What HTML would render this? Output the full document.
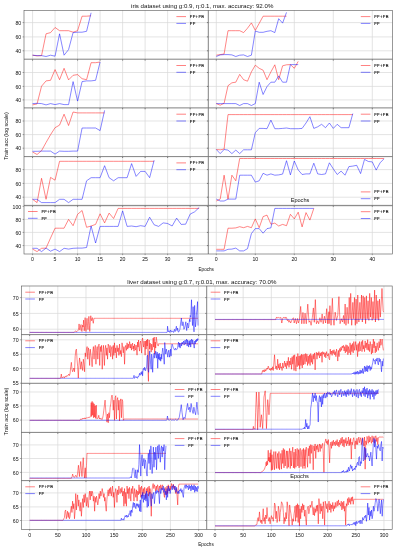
<!DOCTYPE html><html><head><meta charset="utf-8"><style>html,body{margin:0;padding:0;background:#fff;overflow:hidden}svg{display:block;will-change:transform}text{font-family:"Liberation Sans", sans-serif}</style></head><body><svg width="397" height="550" viewBox="0 0 397 550"><line x1="32.55" y1="10.3" x2="32.55" y2="59.2" stroke="#d9d9d9" stroke-width="0.7"/>
<line x1="55.06" y1="10.3" x2="55.06" y2="59.2" stroke="#d9d9d9" stroke-width="0.7"/>
<line x1="77.58" y1="10.3" x2="77.58" y2="59.2" stroke="#d9d9d9" stroke-width="0.7"/>
<line x1="100.09" y1="10.3" x2="100.09" y2="59.2" stroke="#d9d9d9" stroke-width="0.7"/>
<line x1="122.61" y1="10.3" x2="122.61" y2="59.2" stroke="#d9d9d9" stroke-width="0.7"/>
<line x1="145.12" y1="10.3" x2="145.12" y2="59.2" stroke="#d9d9d9" stroke-width="0.7"/>
<line x1="167.64" y1="10.3" x2="167.64" y2="59.2" stroke="#d9d9d9" stroke-width="0.7"/>
<line x1="190.16" y1="10.3" x2="190.16" y2="59.2" stroke="#d9d9d9" stroke-width="0.7"/>
<line x1="24" y1="22.6" x2="208.3" y2="22.6" stroke="#d9d9d9" stroke-width="0.7"/>
<line x1="24" y1="36.9" x2="208.3" y2="36.9" stroke="#d9d9d9" stroke-width="0.7"/>
<line x1="24" y1="50.8" x2="208.3" y2="50.8" stroke="#d9d9d9" stroke-width="0.7"/>
<line x1="216.3" y1="10.3" x2="216.3" y2="59.2" stroke="#d9d9d9" stroke-width="0.7"/>
<line x1="255.3" y1="10.3" x2="255.3" y2="59.2" stroke="#d9d9d9" stroke-width="0.7"/>
<line x1="294.3" y1="10.3" x2="294.3" y2="59.2" stroke="#d9d9d9" stroke-width="0.7"/>
<line x1="333.3" y1="10.3" x2="333.3" y2="59.2" stroke="#d9d9d9" stroke-width="0.7"/>
<line x1="372.3" y1="10.3" x2="372.3" y2="59.2" stroke="#d9d9d9" stroke-width="0.7"/>
<line x1="208.3" y1="22.6" x2="392.4" y2="22.6" stroke="#d9d9d9" stroke-width="0.7"/>
<line x1="208.3" y1="36.9" x2="392.4" y2="36.9" stroke="#d9d9d9" stroke-width="0.7"/>
<line x1="208.3" y1="50.8" x2="392.4" y2="50.8" stroke="#d9d9d9" stroke-width="0.7"/>
<line x1="32.55" y1="59.2" x2="32.55" y2="107.9" stroke="#d9d9d9" stroke-width="0.7"/>
<line x1="55.06" y1="59.2" x2="55.06" y2="107.9" stroke="#d9d9d9" stroke-width="0.7"/>
<line x1="77.58" y1="59.2" x2="77.58" y2="107.9" stroke="#d9d9d9" stroke-width="0.7"/>
<line x1="100.09" y1="59.2" x2="100.09" y2="107.9" stroke="#d9d9d9" stroke-width="0.7"/>
<line x1="122.61" y1="59.2" x2="122.61" y2="107.9" stroke="#d9d9d9" stroke-width="0.7"/>
<line x1="145.12" y1="59.2" x2="145.12" y2="107.9" stroke="#d9d9d9" stroke-width="0.7"/>
<line x1="167.64" y1="59.2" x2="167.64" y2="107.9" stroke="#d9d9d9" stroke-width="0.7"/>
<line x1="190.16" y1="59.2" x2="190.16" y2="107.9" stroke="#d9d9d9" stroke-width="0.7"/>
<line x1="24" y1="72.5" x2="208.3" y2="72.5" stroke="#d9d9d9" stroke-width="0.7"/>
<line x1="24" y1="86.4" x2="208.3" y2="86.4" stroke="#d9d9d9" stroke-width="0.7"/>
<line x1="24" y1="99.9" x2="208.3" y2="99.9" stroke="#d9d9d9" stroke-width="0.7"/>
<line x1="216.3" y1="59.2" x2="216.3" y2="107.9" stroke="#d9d9d9" stroke-width="0.7"/>
<line x1="255.3" y1="59.2" x2="255.3" y2="107.9" stroke="#d9d9d9" stroke-width="0.7"/>
<line x1="294.3" y1="59.2" x2="294.3" y2="107.9" stroke="#d9d9d9" stroke-width="0.7"/>
<line x1="333.3" y1="59.2" x2="333.3" y2="107.9" stroke="#d9d9d9" stroke-width="0.7"/>
<line x1="372.3" y1="59.2" x2="372.3" y2="107.9" stroke="#d9d9d9" stroke-width="0.7"/>
<line x1="208.3" y1="72.5" x2="392.4" y2="72.5" stroke="#d9d9d9" stroke-width="0.7"/>
<line x1="208.3" y1="86.4" x2="392.4" y2="86.4" stroke="#d9d9d9" stroke-width="0.7"/>
<line x1="208.3" y1="99.9" x2="392.4" y2="99.9" stroke="#d9d9d9" stroke-width="0.7"/>
<line x1="32.55" y1="107.9" x2="32.55" y2="156.6" stroke="#d9d9d9" stroke-width="0.7"/>
<line x1="55.06" y1="107.9" x2="55.06" y2="156.6" stroke="#d9d9d9" stroke-width="0.7"/>
<line x1="77.58" y1="107.9" x2="77.58" y2="156.6" stroke="#d9d9d9" stroke-width="0.7"/>
<line x1="100.09" y1="107.9" x2="100.09" y2="156.6" stroke="#d9d9d9" stroke-width="0.7"/>
<line x1="122.61" y1="107.9" x2="122.61" y2="156.6" stroke="#d9d9d9" stroke-width="0.7"/>
<line x1="145.12" y1="107.9" x2="145.12" y2="156.6" stroke="#d9d9d9" stroke-width="0.7"/>
<line x1="167.64" y1="107.9" x2="167.64" y2="156.6" stroke="#d9d9d9" stroke-width="0.7"/>
<line x1="190.16" y1="107.9" x2="190.16" y2="156.6" stroke="#d9d9d9" stroke-width="0.7"/>
<line x1="24" y1="121" x2="208.3" y2="121" stroke="#d9d9d9" stroke-width="0.7"/>
<line x1="24" y1="134.6" x2="208.3" y2="134.6" stroke="#d9d9d9" stroke-width="0.7"/>
<line x1="24" y1="148.2" x2="208.3" y2="148.2" stroke="#d9d9d9" stroke-width="0.7"/>
<line x1="216.3" y1="107.9" x2="216.3" y2="156.6" stroke="#d9d9d9" stroke-width="0.7"/>
<line x1="255.3" y1="107.9" x2="255.3" y2="156.6" stroke="#d9d9d9" stroke-width="0.7"/>
<line x1="294.3" y1="107.9" x2="294.3" y2="156.6" stroke="#d9d9d9" stroke-width="0.7"/>
<line x1="333.3" y1="107.9" x2="333.3" y2="156.6" stroke="#d9d9d9" stroke-width="0.7"/>
<line x1="372.3" y1="107.9" x2="372.3" y2="156.6" stroke="#d9d9d9" stroke-width="0.7"/>
<line x1="208.3" y1="121" x2="392.4" y2="121" stroke="#d9d9d9" stroke-width="0.7"/>
<line x1="208.3" y1="134.6" x2="392.4" y2="134.6" stroke="#d9d9d9" stroke-width="0.7"/>
<line x1="208.3" y1="148.2" x2="392.4" y2="148.2" stroke="#d9d9d9" stroke-width="0.7"/>
<line x1="32.55" y1="156.6" x2="32.55" y2="205.4" stroke="#d9d9d9" stroke-width="0.7"/>
<line x1="55.06" y1="156.6" x2="55.06" y2="205.4" stroke="#d9d9d9" stroke-width="0.7"/>
<line x1="77.58" y1="156.6" x2="77.58" y2="205.4" stroke="#d9d9d9" stroke-width="0.7"/>
<line x1="100.09" y1="156.6" x2="100.09" y2="205.4" stroke="#d9d9d9" stroke-width="0.7"/>
<line x1="122.61" y1="156.6" x2="122.61" y2="205.4" stroke="#d9d9d9" stroke-width="0.7"/>
<line x1="145.12" y1="156.6" x2="145.12" y2="205.4" stroke="#d9d9d9" stroke-width="0.7"/>
<line x1="167.64" y1="156.6" x2="167.64" y2="205.4" stroke="#d9d9d9" stroke-width="0.7"/>
<line x1="190.16" y1="156.6" x2="190.16" y2="205.4" stroke="#d9d9d9" stroke-width="0.7"/>
<line x1="24" y1="169.6" x2="208.3" y2="169.6" stroke="#d9d9d9" stroke-width="0.7"/>
<line x1="24" y1="183.4" x2="208.3" y2="183.4" stroke="#d9d9d9" stroke-width="0.7"/>
<line x1="24" y1="197.2" x2="208.3" y2="197.2" stroke="#d9d9d9" stroke-width="0.7"/>
<line x1="216.3" y1="156.6" x2="216.3" y2="205.4" stroke="#d9d9d9" stroke-width="0.7"/>
<line x1="255.3" y1="156.6" x2="255.3" y2="205.4" stroke="#d9d9d9" stroke-width="0.7"/>
<line x1="294.3" y1="156.6" x2="294.3" y2="205.4" stroke="#d9d9d9" stroke-width="0.7"/>
<line x1="333.3" y1="156.6" x2="333.3" y2="205.4" stroke="#d9d9d9" stroke-width="0.7"/>
<line x1="372.3" y1="156.6" x2="372.3" y2="205.4" stroke="#d9d9d9" stroke-width="0.7"/>
<line x1="208.3" y1="169.6" x2="392.4" y2="169.6" stroke="#d9d9d9" stroke-width="0.7"/>
<line x1="208.3" y1="183.4" x2="392.4" y2="183.4" stroke="#d9d9d9" stroke-width="0.7"/>
<line x1="208.3" y1="197.2" x2="392.4" y2="197.2" stroke="#d9d9d9" stroke-width="0.7"/>
<line x1="32.55" y1="205.4" x2="32.55" y2="254" stroke="#d9d9d9" stroke-width="0.7"/>
<line x1="55.06" y1="205.4" x2="55.06" y2="254" stroke="#d9d9d9" stroke-width="0.7"/>
<line x1="77.58" y1="205.4" x2="77.58" y2="254" stroke="#d9d9d9" stroke-width="0.7"/>
<line x1="100.09" y1="205.4" x2="100.09" y2="254" stroke="#d9d9d9" stroke-width="0.7"/>
<line x1="122.61" y1="205.4" x2="122.61" y2="254" stroke="#d9d9d9" stroke-width="0.7"/>
<line x1="145.12" y1="205.4" x2="145.12" y2="254" stroke="#d9d9d9" stroke-width="0.7"/>
<line x1="167.64" y1="205.4" x2="167.64" y2="254" stroke="#d9d9d9" stroke-width="0.7"/>
<line x1="190.16" y1="205.4" x2="190.16" y2="254" stroke="#d9d9d9" stroke-width="0.7"/>
<line x1="24" y1="206.3" x2="208.3" y2="206.3" stroke="#d9d9d9" stroke-width="0.7"/>
<line x1="24" y1="219.4" x2="208.3" y2="219.4" stroke="#d9d9d9" stroke-width="0.7"/>
<line x1="24" y1="232.4" x2="208.3" y2="232.4" stroke="#d9d9d9" stroke-width="0.7"/>
<line x1="24" y1="245.6" x2="208.3" y2="245.6" stroke="#d9d9d9" stroke-width="0.7"/>
<line x1="216.3" y1="205.4" x2="216.3" y2="254" stroke="#d9d9d9" stroke-width="0.7"/>
<line x1="255.3" y1="205.4" x2="255.3" y2="254" stroke="#d9d9d9" stroke-width="0.7"/>
<line x1="294.3" y1="205.4" x2="294.3" y2="254" stroke="#d9d9d9" stroke-width="0.7"/>
<line x1="333.3" y1="205.4" x2="333.3" y2="254" stroke="#d9d9d9" stroke-width="0.7"/>
<line x1="372.3" y1="205.4" x2="372.3" y2="254" stroke="#d9d9d9" stroke-width="0.7"/>
<line x1="208.3" y1="206.3" x2="392.4" y2="206.3" stroke="#d9d9d9" stroke-width="0.7"/>
<line x1="208.3" y1="219.4" x2="392.4" y2="219.4" stroke="#d9d9d9" stroke-width="0.7"/>
<line x1="208.3" y1="232.4" x2="392.4" y2="232.4" stroke="#d9d9d9" stroke-width="0.7"/>
<line x1="208.3" y1="245.6" x2="392.4" y2="245.6" stroke="#d9d9d9" stroke-width="0.7"/>
<polyline points="32.55,55.2 37.05,55.9 41.56,55.6 46.06,33.8 50.56,32.6 55.06,27.5 59.57,30.7 64.07,30.7 68.57,30.7 73.08,32.2 77.58,30.7 82.08,16.2 86.59,16.2 91.09,15.8" fill="none" stroke="#ff0000" stroke-width="0.6" stroke-linejoin="round" stroke-opacity="0.8"/>
<polyline points="32.55,55.2 37.05,55.6 41.56,55.6 46.06,56.5 50.56,55.2 55.06,56.2 59.57,33.8 64.07,55.2 68.57,49.6 73.08,32.6 77.58,32.2 82.08,32.2 86.59,31.3 91.09,12.8" fill="none" stroke="#0000ff" stroke-width="0.6" stroke-linejoin="round" stroke-opacity="0.8"/>
<polyline points="216.3,55.2 220.2,54.6 224.1,54 228,30.7 231.9,30.7 235.8,30.7 239.7,30.7 243.6,32.6 247.5,28.2 251.4,22.9 255.3,30.4 259.2,23.4 263.1,16.2 267,16.2 270.9,16.2 274.8,16.2 278.7,16.2 282.6,16.2 286.5,16.2" fill="none" stroke="#ff0000" stroke-width="0.6" stroke-linejoin="round" stroke-opacity="0.8"/>
<polyline points="216.3,56.5 220.2,54.9 224.1,54.6 228,54.6 231.9,54.9 235.8,56.5 239.7,55.2 243.6,54.9 247.5,56.5 251.4,55.2 255.3,31 259.2,32.3 263.1,32.3 267,31.3 270.9,30.7 274.8,32.6 278.7,18.7 282.6,23.1 286.5,12.4" fill="none" stroke="#0000ff" stroke-width="0.6" stroke-linejoin="round" stroke-opacity="0.8"/>
<polyline points="32.55,104.9 37.05,103.9 41.56,86.2 46.06,80.9 50.56,80.3 55.06,69.6 59.57,79.7 64.07,68.3 68.57,79.9 73.08,75.3 77.58,74.6 82.08,78.7 86.59,79.7 91.09,62.7 95.59,62.7 100.09,62" fill="none" stroke="#ff0000" stroke-width="0.6" stroke-linejoin="round" stroke-opacity="0.8"/>
<polyline points="32.55,103.6 37.05,103.3 41.56,103.6 46.06,104.9 50.56,103.6 55.06,104.6 59.57,103.6 64.07,104.6 68.57,104.6 73.08,81.6 77.58,101.1 82.08,81.6 86.59,80.9 91.09,80.9 95.59,80.3 100.09,62" fill="none" stroke="#0000ff" stroke-width="0.6" stroke-linejoin="round" stroke-opacity="0.8"/>
<polyline points="216.3,103.6 220.2,105.2 224.1,103.3 228,85.7 231.9,82.8 235.8,82.2 239.7,74.4 243.6,79.7 247.5,81.2 251.4,71.9 255.3,65.2 259.2,68.3 263.1,70.2 267,79.7 270.9,71.9 274.8,64.8 278.7,79.7 282.6,65.8 286.5,64.8 290.4,64.6 294.3,68.3 298.2,61.4" fill="none" stroke="#ff0000" stroke-width="0.6" stroke-linejoin="round" stroke-opacity="0.8"/>
<polyline points="216.3,103.6 220.2,103.6 224.1,103.6 228,103.6 231.9,103.6 235.8,103.6 239.7,105.5 243.6,103.6 247.5,103.6 251.4,105.5 255.3,103.6 259.2,82.2 263.1,94.5 267,86.6 270.9,82.2 274.8,82.2 278.7,75.9 282.6,82.2 286.5,82.2 290.4,64.6 294.3,64.6 298.2,64.6" fill="none" stroke="#0000ff" stroke-width="0.6" stroke-linejoin="round" stroke-opacity="0.8"/>
<polyline points="32.55,152 37.05,154.5 41.56,150.7 46.06,142.5 50.56,134.7 55.06,127.7 59.57,125.1 64.07,114.2 68.57,125.5 73.08,112 77.58,112.9 82.08,112.9 86.59,112.9 91.09,112.9 95.59,112.9 100.09,112.9 104.6,112.9" fill="none" stroke="#ff0000" stroke-width="0.6" stroke-linejoin="round" stroke-opacity="0.8"/>
<polyline points="32.55,151.3 37.05,151.3 41.56,151.1 46.06,151.1 50.56,151.1 55.06,154.1 59.57,151.1 64.07,151.3 68.57,151.3 73.08,151.1 77.58,151.1 82.08,128 86.59,128 91.09,128 95.59,128 100.09,130.6 104.6,110.4" fill="none" stroke="#0000ff" stroke-width="0.6" stroke-linejoin="round" stroke-opacity="0.8"/>
<polyline points="216.3,149.5 220.2,149.8 224.1,149.1 228,114.6 231.9,114.6 235.8,114.6 239.7,114.6 243.6,114.6 247.5,114.6 251.4,114.6 255.3,114.6 259.2,114.6 263.1,114.6 267,114.6 270.9,114.6 274.8,114.6 278.7,114.6 282.6,114.6 286.5,114.6 290.4,114.6 294.3,114.6 298.2,114.6 302.1,114.6 306,114.6 309.9,114.6 313.8,114.6 317.7,114.6 321.6,114.6 325.5,114.6 329.4,114.6 333.3,114.6 337.2,114.6 341.1,114.6 345,114.6 348.9,114.6 352.8,114.6" fill="none" stroke="#ff0000" stroke-width="0.6" stroke-linejoin="round" stroke-opacity="0.8"/>
<polyline points="216.3,149.5 220.2,153.6 224.1,149.5 228,150.1 231.9,153.6 235.8,150.1 239.7,153.6 243.6,149.8 247.5,149.8 251.4,149.8 255.3,132.7 259.2,128.4 263.1,128.4 267,128.7 270.9,120.1 274.8,128.7 278.7,128.7 282.6,128.4 286.5,128 290.4,128.7 294.3,128.7 298.2,128.7 302.1,128.4 306,123 309.9,116.7 313.8,128.4 317.7,126.8 321.6,124.3 325.5,127.7 329.4,123 333.3,128.4 337.2,124.3 341.1,127.7 345,127.7 348.9,127.7 352.8,113.6" fill="none" stroke="#0000ff" stroke-width="0.6" stroke-linejoin="round" stroke-opacity="0.8"/>
<polyline points="32.55,199.3 37.05,202.6 41.56,178.3 46.06,199.3 50.56,177.4 55.06,180.2 59.57,161.3 64.07,161.3 68.57,161.3 73.08,161.3 77.58,161.3 82.08,161.3 86.59,161.3 91.09,161.3 95.59,161.3 100.09,161.3 104.6,161.3 109.1,161.3 113.6,161.3 118.11,161.3 122.61,161.3 127.11,161.3 131.62,161.3 136.12,161.3 140.62,161.3 145.12,161.3 149.63,161.3 154.13,161.3" fill="none" stroke="#ff0000" stroke-width="0.6" stroke-linejoin="round" stroke-opacity="0.8"/>
<polyline points="32.55,199.3 37.05,199.3 41.56,202.6 46.06,202.6 50.56,202.6 55.06,202.6 59.57,199.3 64.07,199.3 68.57,202.6 73.08,199.3 77.58,199.3 82.08,199.3 86.59,180.8 91.09,177.7 95.59,177.7 100.09,177.7 104.6,165.7 109.1,177.7 113.6,180.8 118.11,177.7 122.61,177.7 127.11,177.7 131.62,163.6 136.12,176.4 140.62,171.4 145.12,171.4 149.63,177.7 154.13,160.3" fill="none" stroke="#0000ff" stroke-width="0.6" stroke-linejoin="round" stroke-opacity="0.8"/>
<polyline points="216.3,201 220.2,199.1 224.1,175.2 228,199.1 231.9,175.2 235.8,180.8 239.7,158.5 243.6,158.5 247.5,158.5 251.4,158.5 255.3,158.5 259.2,158.5 263.1,158.5 267,158.5 270.9,158.5 274.8,158.5 278.7,158.5 282.6,158.5 286.5,158.5 290.4,158.5 294.3,158.5 298.2,158.5 302.1,158.5 306,158.5 309.9,158.5 313.8,158.5 317.7,158.5 321.6,158.5 325.5,158.5 329.4,158.5 333.3,158.5 337.2,158.5 341.1,158.5 345,158.5 348.9,158.5 352.8,158.5 356.7,158.5 360.6,158.5 364.5,158.5 368.4,158.5 372.3,158.5 376.2,158.5 380.1,158.5 384,158.5" fill="none" stroke="#ff0000" stroke-width="0.6" stroke-linejoin="round" stroke-opacity="0.8"/>
<polyline points="216.3,199.1 220.2,201 224.1,201 228,199.1 231.9,199.1 235.8,199.1 239.7,175.2 243.6,175.2 247.5,175.2 251.4,175.2 255.3,182.1 259.2,180.8 263.1,173.3 267,175.2 270.9,173.9 274.8,175.2 278.7,174.9 282.6,174.1 286.5,160.7 290.4,174.9 294.3,161 298.2,169.9 302.1,174.5 306,173.9 309.9,173.9 313.8,163.2 317.7,173.9 321.6,174.5 325.5,173.9 329.4,162.8 333.3,168.9 337.2,174.5 341.1,171.1 345,175.2 348.9,166.6 352.8,166.1 356.7,165.3 360.6,173.6 364.5,159.4 368.4,161.5 372.3,161.9 376.2,170.1 380.1,162.8 384,158.8" fill="none" stroke="#0000ff" stroke-width="0.6" stroke-linejoin="round" stroke-opacity="0.8"/>
<polyline points="32.55,249.1 37.05,251.6 41.56,248.3 46.06,248.1 50.56,238 55.06,228.2 59.57,228.2 64.07,228.2 68.57,219.4 73.08,225.7 77.58,214.3 82.08,210.5 86.59,227.3 91.09,226 95.59,224.4 100.09,213.8 104.6,222.9 109.1,213.1 113.6,218.5 118.11,208.4 122.61,208.4 127.11,208.4 131.62,208.4 136.12,208.4 140.62,208.4 145.12,208.4 149.63,208.4 154.13,208.4 158.63,208.4 163.14,208.4 167.64,208.4 172.14,208.4 176.65,208.4 181.15,208.4 185.65,208.4 190.16,208.4 194.66,208.4 199.16,208.4" fill="none" stroke="#ff0000" stroke-width="0.6" stroke-linejoin="round" stroke-opacity="0.8"/>
<polyline points="32.55,248.3 37.05,248.3 41.56,251.6 46.06,248.1 50.56,251.2 55.06,249.1 59.57,251.6 64.07,248.3 68.57,249.1 73.08,248.3 77.58,248.1 82.08,248.1 86.59,247.5 91.09,226 95.59,243 100.09,226.4 104.6,226.4 109.1,226.4 113.6,226.4 118.11,226.4 122.61,210.9 127.11,226.4 131.62,226 136.12,226.7 140.62,225.7 145.12,226.4 149.63,217.2 154.13,224.8 158.63,226.4 163.14,222.9 167.64,223.5 172.14,226 176.65,218.1 181.15,224.4 185.65,224.2 190.16,214.1 194.66,211.8 199.16,207.5" fill="none" stroke="#0000ff" stroke-width="0.6" stroke-linejoin="round" stroke-opacity="0.8"/>
<polyline points="216.3,249.3 220.2,249.3 224.1,249.3 228,228.2 231.9,228.2 235.8,227.9 239.7,226.7 243.6,227.7 247.5,226.4 251.4,227.7 255.3,218.9 259.2,227.7 263.1,216.6 267,215.1 270.9,224.2 274.8,223.1 278.7,226 282.6,224.4 286.5,225.7 290.4,214.3 294.3,218.9 298.2,212.2 302.1,226.9 306,212.6 309.9,220.1 313.8,208.4" fill="none" stroke="#ff0000" stroke-width="0.6" stroke-linejoin="round" stroke-opacity="0.8"/>
<polyline points="216.3,250.9 220.2,250.9 224.1,250.9 228,249.3 231.9,249.1 235.8,248.1 239.7,250.9 243.6,250.9 247.5,248.7 251.4,233.6 255.3,228.6 259.2,228.6 263.1,233.2 267,228.6 270.9,227.9 274.8,208.4 278.7,208.4 282.6,208.4 286.5,208.4 290.4,208.4 294.3,208.4 298.2,208.4 302.1,208.4 306,208.4 309.9,208.4 313.8,208.4" fill="none" stroke="#0000ff" stroke-width="0.6" stroke-linejoin="round" stroke-opacity="0.8"/>
<line x1="32.55" y1="59.2" x2="32.55" y2="60.6" stroke="#333" stroke-width="0.6"/>
<line x1="55.06" y1="59.2" x2="55.06" y2="60.6" stroke="#333" stroke-width="0.6"/>
<line x1="77.58" y1="59.2" x2="77.58" y2="60.6" stroke="#333" stroke-width="0.6"/>
<line x1="100.09" y1="59.2" x2="100.09" y2="60.6" stroke="#333" stroke-width="0.6"/>
<line x1="122.61" y1="59.2" x2="122.61" y2="60.6" stroke="#333" stroke-width="0.6"/>
<line x1="145.12" y1="59.2" x2="145.12" y2="60.6" stroke="#333" stroke-width="0.6"/>
<line x1="167.64" y1="59.2" x2="167.64" y2="60.6" stroke="#333" stroke-width="0.6"/>
<line x1="190.16" y1="59.2" x2="190.16" y2="60.6" stroke="#333" stroke-width="0.6"/>
<line x1="216.3" y1="59.2" x2="216.3" y2="60.6" stroke="#333" stroke-width="0.6"/>
<line x1="255.3" y1="59.2" x2="255.3" y2="60.6" stroke="#333" stroke-width="0.6"/>
<line x1="294.3" y1="59.2" x2="294.3" y2="60.6" stroke="#333" stroke-width="0.6"/>
<line x1="333.3" y1="59.2" x2="333.3" y2="60.6" stroke="#333" stroke-width="0.6"/>
<line x1="372.3" y1="59.2" x2="372.3" y2="60.6" stroke="#333" stroke-width="0.6"/>
<line x1="32.55" y1="107.9" x2="32.55" y2="109.3" stroke="#333" stroke-width="0.6"/>
<line x1="55.06" y1="107.9" x2="55.06" y2="109.3" stroke="#333" stroke-width="0.6"/>
<line x1="77.58" y1="107.9" x2="77.58" y2="109.3" stroke="#333" stroke-width="0.6"/>
<line x1="100.09" y1="107.9" x2="100.09" y2="109.3" stroke="#333" stroke-width="0.6"/>
<line x1="122.61" y1="107.9" x2="122.61" y2="109.3" stroke="#333" stroke-width="0.6"/>
<line x1="145.12" y1="107.9" x2="145.12" y2="109.3" stroke="#333" stroke-width="0.6"/>
<line x1="167.64" y1="107.9" x2="167.64" y2="109.3" stroke="#333" stroke-width="0.6"/>
<line x1="190.16" y1="107.9" x2="190.16" y2="109.3" stroke="#333" stroke-width="0.6"/>
<line x1="216.3" y1="107.9" x2="216.3" y2="109.3" stroke="#333" stroke-width="0.6"/>
<line x1="255.3" y1="107.9" x2="255.3" y2="109.3" stroke="#333" stroke-width="0.6"/>
<line x1="294.3" y1="107.9" x2="294.3" y2="109.3" stroke="#333" stroke-width="0.6"/>
<line x1="333.3" y1="107.9" x2="333.3" y2="109.3" stroke="#333" stroke-width="0.6"/>
<line x1="372.3" y1="107.9" x2="372.3" y2="109.3" stroke="#333" stroke-width="0.6"/>
<line x1="32.55" y1="156.6" x2="32.55" y2="158" stroke="#333" stroke-width="0.6"/>
<line x1="55.06" y1="156.6" x2="55.06" y2="158" stroke="#333" stroke-width="0.6"/>
<line x1="77.58" y1="156.6" x2="77.58" y2="158" stroke="#333" stroke-width="0.6"/>
<line x1="100.09" y1="156.6" x2="100.09" y2="158" stroke="#333" stroke-width="0.6"/>
<line x1="122.61" y1="156.6" x2="122.61" y2="158" stroke="#333" stroke-width="0.6"/>
<line x1="145.12" y1="156.6" x2="145.12" y2="158" stroke="#333" stroke-width="0.6"/>
<line x1="167.64" y1="156.6" x2="167.64" y2="158" stroke="#333" stroke-width="0.6"/>
<line x1="190.16" y1="156.6" x2="190.16" y2="158" stroke="#333" stroke-width="0.6"/>
<line x1="216.3" y1="156.6" x2="216.3" y2="158" stroke="#333" stroke-width="0.6"/>
<line x1="255.3" y1="156.6" x2="255.3" y2="158" stroke="#333" stroke-width="0.6"/>
<line x1="294.3" y1="156.6" x2="294.3" y2="158" stroke="#333" stroke-width="0.6"/>
<line x1="333.3" y1="156.6" x2="333.3" y2="158" stroke="#333" stroke-width="0.6"/>
<line x1="372.3" y1="156.6" x2="372.3" y2="158" stroke="#333" stroke-width="0.6"/>
<line x1="32.55" y1="205.4" x2="32.55" y2="206.8" stroke="#333" stroke-width="0.6"/>
<line x1="55.06" y1="205.4" x2="55.06" y2="206.8" stroke="#333" stroke-width="0.6"/>
<line x1="77.58" y1="205.4" x2="77.58" y2="206.8" stroke="#333" stroke-width="0.6"/>
<line x1="100.09" y1="205.4" x2="100.09" y2="206.8" stroke="#333" stroke-width="0.6"/>
<line x1="122.61" y1="205.4" x2="122.61" y2="206.8" stroke="#333" stroke-width="0.6"/>
<line x1="145.12" y1="205.4" x2="145.12" y2="206.8" stroke="#333" stroke-width="0.6"/>
<line x1="167.64" y1="205.4" x2="167.64" y2="206.8" stroke="#333" stroke-width="0.6"/>
<line x1="190.16" y1="205.4" x2="190.16" y2="206.8" stroke="#333" stroke-width="0.6"/>
<line x1="216.3" y1="205.4" x2="216.3" y2="206.8" stroke="#333" stroke-width="0.6"/>
<line x1="255.3" y1="205.4" x2="255.3" y2="206.8" stroke="#333" stroke-width="0.6"/>
<line x1="294.3" y1="205.4" x2="294.3" y2="206.8" stroke="#333" stroke-width="0.6"/>
<line x1="333.3" y1="205.4" x2="333.3" y2="206.8" stroke="#333" stroke-width="0.6"/>
<line x1="372.3" y1="205.4" x2="372.3" y2="206.8" stroke="#333" stroke-width="0.6"/>
<line x1="206.9" y1="22.6" x2="208.3" y2="22.6" stroke="#333" stroke-width="0.6"/>
<line x1="206.9" y1="36.9" x2="208.3" y2="36.9" stroke="#333" stroke-width="0.6"/>
<line x1="206.9" y1="50.8" x2="208.3" y2="50.8" stroke="#333" stroke-width="0.6"/>
<line x1="206.9" y1="72.5" x2="208.3" y2="72.5" stroke="#333" stroke-width="0.6"/>
<line x1="206.9" y1="86.4" x2="208.3" y2="86.4" stroke="#333" stroke-width="0.6"/>
<line x1="206.9" y1="99.9" x2="208.3" y2="99.9" stroke="#333" stroke-width="0.6"/>
<line x1="206.9" y1="121" x2="208.3" y2="121" stroke="#333" stroke-width="0.6"/>
<line x1="206.9" y1="134.6" x2="208.3" y2="134.6" stroke="#333" stroke-width="0.6"/>
<line x1="206.9" y1="148.2" x2="208.3" y2="148.2" stroke="#333" stroke-width="0.6"/>
<line x1="206.9" y1="169.6" x2="208.3" y2="169.6" stroke="#333" stroke-width="0.6"/>
<line x1="206.9" y1="183.4" x2="208.3" y2="183.4" stroke="#333" stroke-width="0.6"/>
<line x1="206.9" y1="197.2" x2="208.3" y2="197.2" stroke="#333" stroke-width="0.6"/>
<line x1="206.9" y1="206.3" x2="208.3" y2="206.3" stroke="#333" stroke-width="0.6"/>
<line x1="206.9" y1="219.4" x2="208.3" y2="219.4" stroke="#333" stroke-width="0.6"/>
<line x1="206.9" y1="232.4" x2="208.3" y2="232.4" stroke="#333" stroke-width="0.6"/>
<line x1="206.9" y1="245.6" x2="208.3" y2="245.6" stroke="#333" stroke-width="0.6"/>
<line x1="24" y1="59.2" x2="392.4" y2="59.2" stroke="#7a7a7a" stroke-width="0.95"/>
<line x1="24" y1="107.9" x2="392.4" y2="107.9" stroke="#7a7a7a" stroke-width="0.95"/>
<line x1="24" y1="156.6" x2="392.4" y2="156.6" stroke="#7a7a7a" stroke-width="0.95"/>
<line x1="24" y1="205.4" x2="392.4" y2="205.4" stroke="#7a7a7a" stroke-width="0.95"/>
<line x1="208.3" y1="10.3" x2="208.3" y2="254" stroke="#7a7a7a" stroke-width="0.95"/>
<rect x="24" y="10.3" width="368.4" height="243.7" fill="none" stroke="#555" stroke-width="0.6"/>
<line x1="176.4" y1="16.6" x2="186" y2="16.6" stroke="#ff0000" stroke-width="0.9" stroke-opacity="0.55"/>
<line x1="176.4" y1="23.4" x2="186" y2="23.4" stroke="#0000ff" stroke-width="0.9" stroke-opacity="0.55"/>
<text font-size="4.2" fill="#000" stroke="#000" stroke-width="0.1" letter-spacing="0.35" text-rendering="geometricPrecision" x="189.8" y="18.1">FF+FB</text>
<text font-size="4.2" fill="#000" stroke="#000" stroke-width="0.1" letter-spacing="0.35" text-rendering="geometricPrecision" x="189.8" y="24.9">FF</text>
<line x1="360.8" y1="16.6" x2="370.4" y2="16.6" stroke="#ff0000" stroke-width="0.9" stroke-opacity="0.55"/>
<line x1="360.8" y1="23.4" x2="370.4" y2="23.4" stroke="#0000ff" stroke-width="0.9" stroke-opacity="0.55"/>
<text font-size="4.2" fill="#000" stroke="#000" stroke-width="0.1" letter-spacing="0.35" text-rendering="geometricPrecision" x="374.2" y="18.1">FF+FB</text>
<text font-size="4.2" fill="#000" stroke="#000" stroke-width="0.1" letter-spacing="0.35" text-rendering="geometricPrecision" x="374.2" y="24.9">FF</text>
<line x1="176.4" y1="65.5" x2="186" y2="65.5" stroke="#ff0000" stroke-width="0.9" stroke-opacity="0.55"/>
<line x1="176.4" y1="72.3" x2="186" y2="72.3" stroke="#0000ff" stroke-width="0.9" stroke-opacity="0.55"/>
<text font-size="4.2" fill="#000" stroke="#000" stroke-width="0.1" letter-spacing="0.35" text-rendering="geometricPrecision" x="189.8" y="67">FF+FB</text>
<text font-size="4.2" fill="#000" stroke="#000" stroke-width="0.1" letter-spacing="0.35" text-rendering="geometricPrecision" x="189.8" y="73.8">FF</text>
<line x1="360.8" y1="65.5" x2="370.4" y2="65.5" stroke="#ff0000" stroke-width="0.9" stroke-opacity="0.55"/>
<line x1="360.8" y1="72.3" x2="370.4" y2="72.3" stroke="#0000ff" stroke-width="0.9" stroke-opacity="0.55"/>
<text font-size="4.2" fill="#000" stroke="#000" stroke-width="0.1" letter-spacing="0.35" text-rendering="geometricPrecision" x="374.2" y="67">FF+FB</text>
<text font-size="4.2" fill="#000" stroke="#000" stroke-width="0.1" letter-spacing="0.35" text-rendering="geometricPrecision" x="374.2" y="73.8">FF</text>
<line x1="176.4" y1="114.2" x2="186" y2="114.2" stroke="#ff0000" stroke-width="0.9" stroke-opacity="0.55"/>
<line x1="176.4" y1="121" x2="186" y2="121" stroke="#0000ff" stroke-width="0.9" stroke-opacity="0.55"/>
<text font-size="4.2" fill="#000" stroke="#000" stroke-width="0.1" letter-spacing="0.35" text-rendering="geometricPrecision" x="189.8" y="115.7">FF+FB</text>
<text font-size="4.2" fill="#000" stroke="#000" stroke-width="0.1" letter-spacing="0.35" text-rendering="geometricPrecision" x="189.8" y="122.5">FF</text>
<line x1="360.8" y1="114.2" x2="370.4" y2="114.2" stroke="#ff0000" stroke-width="0.9" stroke-opacity="0.55"/>
<line x1="360.8" y1="121" x2="370.4" y2="121" stroke="#0000ff" stroke-width="0.9" stroke-opacity="0.55"/>
<text font-size="4.2" fill="#000" stroke="#000" stroke-width="0.1" letter-spacing="0.35" text-rendering="geometricPrecision" x="374.2" y="115.7">FF+FB</text>
<text font-size="4.2" fill="#000" stroke="#000" stroke-width="0.1" letter-spacing="0.35" text-rendering="geometricPrecision" x="374.2" y="122.5">FF</text>
<line x1="176.4" y1="162.9" x2="186" y2="162.9" stroke="#ff0000" stroke-width="0.9" stroke-opacity="0.55"/>
<line x1="176.4" y1="169.7" x2="186" y2="169.7" stroke="#0000ff" stroke-width="0.9" stroke-opacity="0.55"/>
<text font-size="4.2" fill="#000" stroke="#000" stroke-width="0.1" letter-spacing="0.35" text-rendering="geometricPrecision" x="189.8" y="164.4">FF+FB</text>
<text font-size="4.2" fill="#000" stroke="#000" stroke-width="0.1" letter-spacing="0.35" text-rendering="geometricPrecision" x="189.8" y="171.2">FF</text>
<line x1="360.8" y1="191.9" x2="370.4" y2="191.9" stroke="#ff0000" stroke-width="0.9" stroke-opacity="0.55"/>
<line x1="360.8" y1="198.7" x2="370.4" y2="198.7" stroke="#0000ff" stroke-width="0.9" stroke-opacity="0.55"/>
<text font-size="4.2" fill="#000" stroke="#000" stroke-width="0.1" letter-spacing="0.35" text-rendering="geometricPrecision" x="374.2" y="193.4">FF+FB</text>
<text font-size="4.2" fill="#000" stroke="#000" stroke-width="0.1" letter-spacing="0.35" text-rendering="geometricPrecision" x="374.2" y="200.2">FF</text>
<line x1="28" y1="211.5" x2="37.6" y2="211.5" stroke="#ff0000" stroke-width="0.9" stroke-opacity="0.55"/>
<line x1="28" y1="218.3" x2="37.6" y2="218.3" stroke="#0000ff" stroke-width="0.9" stroke-opacity="0.55"/>
<text font-size="4.2" fill="#000" stroke="#000" stroke-width="0.1" letter-spacing="0.35" text-rendering="geometricPrecision" x="41.4" y="213">FF+FB</text>
<text font-size="4.2" fill="#000" stroke="#000" stroke-width="0.1" letter-spacing="0.35" text-rendering="geometricPrecision" x="41.4" y="219.8">FF</text>
<line x1="360.8" y1="211.7" x2="370.4" y2="211.7" stroke="#ff0000" stroke-width="0.9" stroke-opacity="0.55"/>
<line x1="360.8" y1="218.5" x2="370.4" y2="218.5" stroke="#0000ff" stroke-width="0.9" stroke-opacity="0.55"/>
<text font-size="4.2" fill="#000" stroke="#000" stroke-width="0.1" letter-spacing="0.35" text-rendering="geometricPrecision" x="374.2" y="213.2">FF+FB</text>
<text font-size="4.2" fill="#000" stroke="#000" stroke-width="0.1" letter-spacing="0.35" text-rendering="geometricPrecision" x="374.2" y="220">FF</text>
<text x="21.2" y="24.8" font-size="5.2" text-anchor="end" fill="#111" >80</text>
<line x1="22.6" y1="22.6" x2="24" y2="22.6" stroke="#555" stroke-width="0.5"/>
<text x="21.2" y="39.1" font-size="5.2" text-anchor="end" fill="#111" >60</text>
<line x1="22.6" y1="36.9" x2="24" y2="36.9" stroke="#555" stroke-width="0.5"/>
<text x="21.2" y="53" font-size="5.2" text-anchor="end" fill="#111" >40</text>
<line x1="22.6" y1="50.8" x2="24" y2="50.8" stroke="#555" stroke-width="0.5"/>
<text x="21.2" y="74.7" font-size="5.2" text-anchor="end" fill="#111" >80</text>
<line x1="22.6" y1="72.5" x2="24" y2="72.5" stroke="#555" stroke-width="0.5"/>
<text x="21.2" y="88.6" font-size="5.2" text-anchor="end" fill="#111" >60</text>
<line x1="22.6" y1="86.4" x2="24" y2="86.4" stroke="#555" stroke-width="0.5"/>
<text x="21.2" y="102.1" font-size="5.2" text-anchor="end" fill="#111" >40</text>
<line x1="22.6" y1="99.9" x2="24" y2="99.9" stroke="#555" stroke-width="0.5"/>
<text x="21.2" y="123.2" font-size="5.2" text-anchor="end" fill="#111" >80</text>
<line x1="22.6" y1="121" x2="24" y2="121" stroke="#555" stroke-width="0.5"/>
<text x="21.2" y="136.8" font-size="5.2" text-anchor="end" fill="#111" >60</text>
<line x1="22.6" y1="134.6" x2="24" y2="134.6" stroke="#555" stroke-width="0.5"/>
<text x="21.2" y="150.4" font-size="5.2" text-anchor="end" fill="#111" >40</text>
<line x1="22.6" y1="148.2" x2="24" y2="148.2" stroke="#555" stroke-width="0.5"/>
<text x="21.2" y="171.8" font-size="5.2" text-anchor="end" fill="#111" >80</text>
<line x1="22.6" y1="169.6" x2="24" y2="169.6" stroke="#555" stroke-width="0.5"/>
<text x="21.2" y="185.6" font-size="5.2" text-anchor="end" fill="#111" >60</text>
<line x1="22.6" y1="183.4" x2="24" y2="183.4" stroke="#555" stroke-width="0.5"/>
<text x="21.2" y="199.4" font-size="5.2" text-anchor="end" fill="#111" >40</text>
<line x1="22.6" y1="197.2" x2="24" y2="197.2" stroke="#555" stroke-width="0.5"/>
<text x="21.2" y="208.5" font-size="5.2" text-anchor="end" fill="#111" >100</text>
<line x1="22.6" y1="206.3" x2="24" y2="206.3" stroke="#555" stroke-width="0.5"/>
<text x="21.2" y="221.6" font-size="5.2" text-anchor="end" fill="#111" >80</text>
<line x1="22.6" y1="219.4" x2="24" y2="219.4" stroke="#555" stroke-width="0.5"/>
<text x="21.2" y="234.6" font-size="5.2" text-anchor="end" fill="#111" >60</text>
<line x1="22.6" y1="232.4" x2="24" y2="232.4" stroke="#555" stroke-width="0.5"/>
<text x="21.2" y="247.8" font-size="5.2" text-anchor="end" fill="#111" >40</text>
<line x1="22.6" y1="245.6" x2="24" y2="245.6" stroke="#555" stroke-width="0.5"/>
<text x="32.55" y="261" font-size="5.2" text-anchor="middle" fill="#111" >0</text>
<line x1="32.55" y1="253.8" x2="32.55" y2="255.2" stroke="#555" stroke-width="0.5"/>
<text x="55.06" y="261" font-size="5.2" text-anchor="middle" fill="#111" >5</text>
<line x1="55.06" y1="253.8" x2="55.06" y2="255.2" stroke="#555" stroke-width="0.5"/>
<text x="77.58" y="261" font-size="5.2" text-anchor="middle" fill="#111" >10</text>
<line x1="77.58" y1="253.8" x2="77.58" y2="255.2" stroke="#555" stroke-width="0.5"/>
<text x="100.09" y="261" font-size="5.2" text-anchor="middle" fill="#111" >15</text>
<line x1="100.09" y1="253.8" x2="100.09" y2="255.2" stroke="#555" stroke-width="0.5"/>
<text x="122.61" y="261" font-size="5.2" text-anchor="middle" fill="#111" >20</text>
<line x1="122.61" y1="253.8" x2="122.61" y2="255.2" stroke="#555" stroke-width="0.5"/>
<text x="145.12" y="261" font-size="5.2" text-anchor="middle" fill="#111" >25</text>
<line x1="145.12" y1="253.8" x2="145.12" y2="255.2" stroke="#555" stroke-width="0.5"/>
<text x="167.64" y="261" font-size="5.2" text-anchor="middle" fill="#111" >30</text>
<line x1="167.64" y1="253.8" x2="167.64" y2="255.2" stroke="#555" stroke-width="0.5"/>
<text x="190.16" y="261" font-size="5.2" text-anchor="middle" fill="#111" >35</text>
<line x1="190.16" y1="253.8" x2="190.16" y2="255.2" stroke="#555" stroke-width="0.5"/>
<text x="216.3" y="261" font-size="5.2" text-anchor="middle" fill="#111" >0</text>
<line x1="216.3" y1="253.8" x2="216.3" y2="255.2" stroke="#555" stroke-width="0.5"/>
<text x="255.3" y="261" font-size="5.2" text-anchor="middle" fill="#111" >10</text>
<line x1="255.3" y1="253.8" x2="255.3" y2="255.2" stroke="#555" stroke-width="0.5"/>
<text x="294.3" y="261" font-size="5.2" text-anchor="middle" fill="#111" >20</text>
<line x1="294.3" y1="253.8" x2="294.3" y2="255.2" stroke="#555" stroke-width="0.5"/>
<text x="333.3" y="261" font-size="5.2" text-anchor="middle" fill="#111" >30</text>
<line x1="333.3" y1="253.8" x2="333.3" y2="255.2" stroke="#555" stroke-width="0.5"/>
<text x="372.3" y="261" font-size="5.2" text-anchor="middle" fill="#111" >40</text>
<line x1="372.3" y1="253.8" x2="372.3" y2="255.2" stroke="#555" stroke-width="0.5"/>
<text x="202.2" y="8.2" font-size="6.15" text-anchor="middle" fill="#111" >iris dataset using g:0.9, &#951;:0.1, max. accuracy: 92.0%</text>
<text x="206.2" y="270.8" font-size="4.65" text-anchor="middle" fill="#111" >Epochs</text>
<text x="300" y="202.3" font-size="5.6" text-anchor="middle" fill="#111" >Epochs</text>
<text x="0" y="0" font-size="5.3" text-anchor="middle" fill="#111" transform="translate(7.8,136) rotate(-90)">Train acc (log scale)</text>
<line x1="29.65" y1="286" x2="29.65" y2="334.6" stroke="#d9d9d9" stroke-width="0.7"/>
<line x1="57.81" y1="286" x2="57.81" y2="334.6" stroke="#d9d9d9" stroke-width="0.7"/>
<line x1="85.97" y1="286" x2="85.97" y2="334.6" stroke="#d9d9d9" stroke-width="0.7"/>
<line x1="114.13" y1="286" x2="114.13" y2="334.6" stroke="#d9d9d9" stroke-width="0.7"/>
<line x1="142.29" y1="286" x2="142.29" y2="334.6" stroke="#d9d9d9" stroke-width="0.7"/>
<line x1="170.45" y1="286" x2="170.45" y2="334.6" stroke="#d9d9d9" stroke-width="0.7"/>
<line x1="198.61" y1="286" x2="198.61" y2="334.6" stroke="#d9d9d9" stroke-width="0.7"/>
<line x1="21.3" y1="297.6" x2="206.7" y2="297.6" stroke="#d9d9d9" stroke-width="0.7"/>
<line x1="21.3" y1="313.4" x2="206.7" y2="313.4" stroke="#d9d9d9" stroke-width="0.7"/>
<line x1="21.3" y1="329.2" x2="206.7" y2="329.2" stroke="#d9d9d9" stroke-width="0.7"/>
<line x1="215" y1="286" x2="215" y2="334.6" stroke="#d9d9d9" stroke-width="0.7"/>
<line x1="243.16" y1="286" x2="243.16" y2="334.6" stroke="#d9d9d9" stroke-width="0.7"/>
<line x1="271.32" y1="286" x2="271.32" y2="334.6" stroke="#d9d9d9" stroke-width="0.7"/>
<line x1="299.48" y1="286" x2="299.48" y2="334.6" stroke="#d9d9d9" stroke-width="0.7"/>
<line x1="327.64" y1="286" x2="327.64" y2="334.6" stroke="#d9d9d9" stroke-width="0.7"/>
<line x1="355.8" y1="286" x2="355.8" y2="334.6" stroke="#d9d9d9" stroke-width="0.7"/>
<line x1="383.96" y1="286" x2="383.96" y2="334.6" stroke="#d9d9d9" stroke-width="0.7"/>
<line x1="206.7" y1="297.6" x2="392.2" y2="297.6" stroke="#d9d9d9" stroke-width="0.7"/>
<line x1="206.7" y1="313.4" x2="392.2" y2="313.4" stroke="#d9d9d9" stroke-width="0.7"/>
<line x1="206.7" y1="329.2" x2="392.2" y2="329.2" stroke="#d9d9d9" stroke-width="0.7"/>
<line x1="29.65" y1="334.6" x2="29.65" y2="383.3" stroke="#d9d9d9" stroke-width="0.7"/>
<line x1="57.81" y1="334.6" x2="57.81" y2="383.3" stroke="#d9d9d9" stroke-width="0.7"/>
<line x1="85.97" y1="334.6" x2="85.97" y2="383.3" stroke="#d9d9d9" stroke-width="0.7"/>
<line x1="114.13" y1="334.6" x2="114.13" y2="383.3" stroke="#d9d9d9" stroke-width="0.7"/>
<line x1="142.29" y1="334.6" x2="142.29" y2="383.3" stroke="#d9d9d9" stroke-width="0.7"/>
<line x1="170.45" y1="334.6" x2="170.45" y2="383.3" stroke="#d9d9d9" stroke-width="0.7"/>
<line x1="198.61" y1="334.6" x2="198.61" y2="383.3" stroke="#d9d9d9" stroke-width="0.7"/>
<line x1="21.3" y1="339.8" x2="206.7" y2="339.8" stroke="#d9d9d9" stroke-width="0.7"/>
<line x1="21.3" y1="354.2" x2="206.7" y2="354.2" stroke="#d9d9d9" stroke-width="0.7"/>
<line x1="21.3" y1="368.5" x2="206.7" y2="368.5" stroke="#d9d9d9" stroke-width="0.7"/>
<line x1="215" y1="334.6" x2="215" y2="383.3" stroke="#d9d9d9" stroke-width="0.7"/>
<line x1="243.16" y1="334.6" x2="243.16" y2="383.3" stroke="#d9d9d9" stroke-width="0.7"/>
<line x1="271.32" y1="334.6" x2="271.32" y2="383.3" stroke="#d9d9d9" stroke-width="0.7"/>
<line x1="299.48" y1="334.6" x2="299.48" y2="383.3" stroke="#d9d9d9" stroke-width="0.7"/>
<line x1="327.64" y1="334.6" x2="327.64" y2="383.3" stroke="#d9d9d9" stroke-width="0.7"/>
<line x1="355.8" y1="334.6" x2="355.8" y2="383.3" stroke="#d9d9d9" stroke-width="0.7"/>
<line x1="383.96" y1="334.6" x2="383.96" y2="383.3" stroke="#d9d9d9" stroke-width="0.7"/>
<line x1="206.7" y1="339.8" x2="392.2" y2="339.8" stroke="#d9d9d9" stroke-width="0.7"/>
<line x1="206.7" y1="354.2" x2="392.2" y2="354.2" stroke="#d9d9d9" stroke-width="0.7"/>
<line x1="206.7" y1="368.5" x2="392.2" y2="368.5" stroke="#d9d9d9" stroke-width="0.7"/>
<line x1="29.65" y1="383.3" x2="29.65" y2="432.4" stroke="#d9d9d9" stroke-width="0.7"/>
<line x1="57.81" y1="383.3" x2="57.81" y2="432.4" stroke="#d9d9d9" stroke-width="0.7"/>
<line x1="85.97" y1="383.3" x2="85.97" y2="432.4" stroke="#d9d9d9" stroke-width="0.7"/>
<line x1="114.13" y1="383.3" x2="114.13" y2="432.4" stroke="#d9d9d9" stroke-width="0.7"/>
<line x1="142.29" y1="383.3" x2="142.29" y2="432.4" stroke="#d9d9d9" stroke-width="0.7"/>
<line x1="170.45" y1="383.3" x2="170.45" y2="432.4" stroke="#d9d9d9" stroke-width="0.7"/>
<line x1="198.61" y1="383.3" x2="198.61" y2="432.4" stroke="#d9d9d9" stroke-width="0.7"/>
<line x1="21.3" y1="392" x2="206.7" y2="392" stroke="#d9d9d9" stroke-width="0.7"/>
<line x1="21.3" y1="405.9" x2="206.7" y2="405.9" stroke="#d9d9d9" stroke-width="0.7"/>
<line x1="21.3" y1="420.1" x2="206.7" y2="420.1" stroke="#d9d9d9" stroke-width="0.7"/>
<line x1="215" y1="383.3" x2="215" y2="432.4" stroke="#d9d9d9" stroke-width="0.7"/>
<line x1="243.16" y1="383.3" x2="243.16" y2="432.4" stroke="#d9d9d9" stroke-width="0.7"/>
<line x1="271.32" y1="383.3" x2="271.32" y2="432.4" stroke="#d9d9d9" stroke-width="0.7"/>
<line x1="299.48" y1="383.3" x2="299.48" y2="432.4" stroke="#d9d9d9" stroke-width="0.7"/>
<line x1="327.64" y1="383.3" x2="327.64" y2="432.4" stroke="#d9d9d9" stroke-width="0.7"/>
<line x1="355.8" y1="383.3" x2="355.8" y2="432.4" stroke="#d9d9d9" stroke-width="0.7"/>
<line x1="383.96" y1="383.3" x2="383.96" y2="432.4" stroke="#d9d9d9" stroke-width="0.7"/>
<line x1="206.7" y1="392" x2="392.2" y2="392" stroke="#d9d9d9" stroke-width="0.7"/>
<line x1="206.7" y1="405.9" x2="392.2" y2="405.9" stroke="#d9d9d9" stroke-width="0.7"/>
<line x1="206.7" y1="420.1" x2="392.2" y2="420.1" stroke="#d9d9d9" stroke-width="0.7"/>
<line x1="29.65" y1="432.4" x2="29.65" y2="480.6" stroke="#d9d9d9" stroke-width="0.7"/>
<line x1="57.81" y1="432.4" x2="57.81" y2="480.6" stroke="#d9d9d9" stroke-width="0.7"/>
<line x1="85.97" y1="432.4" x2="85.97" y2="480.6" stroke="#d9d9d9" stroke-width="0.7"/>
<line x1="114.13" y1="432.4" x2="114.13" y2="480.6" stroke="#d9d9d9" stroke-width="0.7"/>
<line x1="142.29" y1="432.4" x2="142.29" y2="480.6" stroke="#d9d9d9" stroke-width="0.7"/>
<line x1="170.45" y1="432.4" x2="170.45" y2="480.6" stroke="#d9d9d9" stroke-width="0.7"/>
<line x1="198.61" y1="432.4" x2="198.61" y2="480.6" stroke="#d9d9d9" stroke-width="0.7"/>
<line x1="21.3" y1="444.9" x2="206.7" y2="444.9" stroke="#d9d9d9" stroke-width="0.7"/>
<line x1="21.3" y1="458.5" x2="206.7" y2="458.5" stroke="#d9d9d9" stroke-width="0.7"/>
<line x1="21.3" y1="472.4" x2="206.7" y2="472.4" stroke="#d9d9d9" stroke-width="0.7"/>
<line x1="215" y1="432.4" x2="215" y2="480.6" stroke="#d9d9d9" stroke-width="0.7"/>
<line x1="243.16" y1="432.4" x2="243.16" y2="480.6" stroke="#d9d9d9" stroke-width="0.7"/>
<line x1="271.32" y1="432.4" x2="271.32" y2="480.6" stroke="#d9d9d9" stroke-width="0.7"/>
<line x1="299.48" y1="432.4" x2="299.48" y2="480.6" stroke="#d9d9d9" stroke-width="0.7"/>
<line x1="327.64" y1="432.4" x2="327.64" y2="480.6" stroke="#d9d9d9" stroke-width="0.7"/>
<line x1="355.8" y1="432.4" x2="355.8" y2="480.6" stroke="#d9d9d9" stroke-width="0.7"/>
<line x1="383.96" y1="432.4" x2="383.96" y2="480.6" stroke="#d9d9d9" stroke-width="0.7"/>
<line x1="206.7" y1="444.9" x2="392.2" y2="444.9" stroke="#d9d9d9" stroke-width="0.7"/>
<line x1="206.7" y1="458.5" x2="392.2" y2="458.5" stroke="#d9d9d9" stroke-width="0.7"/>
<line x1="206.7" y1="472.4" x2="392.2" y2="472.4" stroke="#d9d9d9" stroke-width="0.7"/>
<line x1="29.65" y1="480.6" x2="29.65" y2="529.4" stroke="#d9d9d9" stroke-width="0.7"/>
<line x1="57.81" y1="480.6" x2="57.81" y2="529.4" stroke="#d9d9d9" stroke-width="0.7"/>
<line x1="85.97" y1="480.6" x2="85.97" y2="529.4" stroke="#d9d9d9" stroke-width="0.7"/>
<line x1="114.13" y1="480.6" x2="114.13" y2="529.4" stroke="#d9d9d9" stroke-width="0.7"/>
<line x1="142.29" y1="480.6" x2="142.29" y2="529.4" stroke="#d9d9d9" stroke-width="0.7"/>
<line x1="170.45" y1="480.6" x2="170.45" y2="529.4" stroke="#d9d9d9" stroke-width="0.7"/>
<line x1="198.61" y1="480.6" x2="198.61" y2="529.4" stroke="#d9d9d9" stroke-width="0.7"/>
<line x1="21.3" y1="492.9" x2="206.7" y2="492.9" stroke="#d9d9d9" stroke-width="0.7"/>
<line x1="21.3" y1="506.9" x2="206.7" y2="506.9" stroke="#d9d9d9" stroke-width="0.7"/>
<line x1="21.3" y1="520.5" x2="206.7" y2="520.5" stroke="#d9d9d9" stroke-width="0.7"/>
<line x1="215" y1="480.6" x2="215" y2="529.4" stroke="#d9d9d9" stroke-width="0.7"/>
<line x1="243.16" y1="480.6" x2="243.16" y2="529.4" stroke="#d9d9d9" stroke-width="0.7"/>
<line x1="271.32" y1="480.6" x2="271.32" y2="529.4" stroke="#d9d9d9" stroke-width="0.7"/>
<line x1="299.48" y1="480.6" x2="299.48" y2="529.4" stroke="#d9d9d9" stroke-width="0.7"/>
<line x1="327.64" y1="480.6" x2="327.64" y2="529.4" stroke="#d9d9d9" stroke-width="0.7"/>
<line x1="355.8" y1="480.6" x2="355.8" y2="529.4" stroke="#d9d9d9" stroke-width="0.7"/>
<line x1="383.96" y1="480.6" x2="383.96" y2="529.4" stroke="#d9d9d9" stroke-width="0.7"/>
<line x1="206.7" y1="492.9" x2="392.2" y2="492.9" stroke="#d9d9d9" stroke-width="0.7"/>
<line x1="206.7" y1="506.9" x2="392.2" y2="506.9" stroke="#d9d9d9" stroke-width="0.7"/>
<line x1="206.7" y1="520.5" x2="392.2" y2="520.5" stroke="#d9d9d9" stroke-width="0.7"/>
<polyline points="29.65,332.4 30.21,332.4 30.78,332.4 31.34,332.4 31.9,332.4 32.47,332.4 33.03,332.4 33.59,332.4 34.16,332.4 34.72,332.4 35.28,332.4 35.85,332.4 36.41,332.4 36.97,332.4 37.53,332.4 38.1,332.4 38.66,332.4 39.22,332.4 39.79,332.4 40.35,332.4 40.91,332.4 41.48,332.4 42.04,332.4 42.6,332.4 43.17,332.4 43.73,332.4 44.29,332.4 44.86,332.4 45.42,332.4 45.98,332.4 46.55,332.4 47.11,332.4 47.67,332.4 48.24,332.4 48.8,332.4 49.36,332.4 49.93,332.4 50.49,332.4 51.05,332.4 51.61,332.4 52.18,332.4 52.74,332.4 53.3,332.4 53.87,332.4 54.43,332.4 54.99,332.4 55.56,332.4 56.12,332.4 56.68,332.4 57.25,332.4 57.81,332.4 58.37,332.4 58.94,332.4 59.5,332.4 60.06,332.4 60.63,332.4 61.19,332.4 61.75,332.4 62.32,332.4 62.88,332.4 63.44,332.4 64.01,332.4 64.57,332.4 65.13,332.4 65.69,332.4 66.26,332.4 66.82,332.4 67.38,332.4 67.95,332.4 68.51,332.4 69.07,332.4 69.64,332.4 70.2,332.4 70.76,332.4 71.33,332.4 71.89,332.4 72.45,332.4 73.02,332.4 73.58,332.4 74.14,332.4 74.41,332.12 74.79,331.49 75.67,330.86 76.3,331.74 77.3,331.23 78.19,330.23 78.82,327.08 79.07,323.93 79.57,329.6 80.08,330.23 80.58,325.82 81.08,324.56 81.59,330.86 81.96,331.49 82.59,325.19 83.1,327.08 83.6,320.15 84.23,330.86 84.74,325.19 85.11,317.63 85.62,327.71 85.99,331.49 86.5,323.93 87,318.26 87.51,325.19 88.01,329.6 88.51,321.41 88.89,316.37 89.4,325.19 89.77,331.49 90.28,322.67 90.78,315.74 91.16,318.89 91.66,320.78 92.04,318.26 92.42,317.63 92.8,320.78 93.3,323.3 93.68,320.15 93.93,318.26 94.42,318.3 94.98,318.3 95.54,318.3 96.11,318.3 96.67,318.3 97.23,318.3 97.8,318.3 98.36,318.3 98.92,318.3 99.49,318.3 100.05,318.3 100.61,318.3 101.18,318.3 101.74,318.3 102.3,318.3 102.87,318.3 103.43,318.3 103.99,318.3 104.56,318.3 105.12,318.3 105.68,318.3 106.25,318.3 106.81,318.3 107.37,318.3 107.93,318.3 108.5,318.3 109.06,318.3 109.62,318.3 110.19,318.3 110.75,318.3 111.31,318.3 111.88,318.3 112.44,318.3 113,318.3 113.57,318.3 114.13,318.3 114.69,318.3 115.26,318.3 115.82,318.3 116.38,318.3 116.95,318.3 117.51,318.3 118.07,318.3 118.64,318.3 119.2,318.3 119.76,318.3 120.33,318.3 120.89,318.3 121.45,318.3 122.01,318.3 122.58,318.3 123.14,318.3 123.7,318.3 124.27,318.3 124.83,318.3 125.39,318.3 125.96,318.3 126.52,318.3 127.08,318.3 127.65,318.3 128.21,318.3 128.77,318.3 129.34,318.3 129.9,318.3 130.46,318.3 131.03,318.3 131.59,318.3 132.15,318.3 132.72,318.3 133.28,318.3 133.84,318.3 134.41,318.3 134.97,318.3 135.53,318.3 136.09,318.3 136.66,318.3 137.22,318.3 137.78,318.3 138.35,318.3 138.91,318.3 139.47,318.3 140.04,318.3 140.6,318.3 141.16,318.3 141.73,318.3 142.29,318.3 142.85,318.3 143.42,318.3 143.98,318.3 144.54,318.3 145.11,318.3 145.67,318.3 146.23,318.3 146.8,318.3 147.36,318.3 147.92,318.3 148.49,318.3 149.05,318.3 149.61,318.3 150.17,318.3 150.74,318.3 151.3,318.3 151.86,318.3 152.43,318.3 152.99,318.3 153.55,318.3 154.12,318.3 154.68,318.3 155.24,318.3 155.81,318.3 156.37,318.3 156.93,318.3 157.5,318.3 158.06,318.3 158.62,318.3 159.19,318.3 159.75,318.3 160.31,318.3 160.88,318.3 161.44,318.3 162,318.3 162.57,318.3 163.13,318.3 163.69,318.3 164.25,318.3 164.82,318.3 165.38,318.3 165.94,318.3 166.51,318.3 167.07,318.3 167.63,318.3 168.2,318.3 168.76,318.3 169.32,318.3 169.89,318.3 170.45,318.3 171.01,318.3 171.58,318.3 172.14,318.3 172.7,318.3 173.27,318.3 173.83,318.3 174.39,318.3 174.96,318.3 175.52,318.3 176.08,318.3 176.65,318.3 177.21,318.3 177.77,318.3 178.33,318.3 178.9,318.3 179.46,318.3 180.02,318.3 180.59,318.3 181.15,318.3 181.71,318.3 182.28,318.3 182.84,318.3 183.4,318.3 183.97,318.3 184.53,318.3 185.09,318.3 185.66,318.3 186.22,318.3 186.78,318.3 187.35,318.3 187.91,318.3 188.47,318.3 189.04,318.3 189.6,318.3 190.16,318.3 190.73,318.3 191.29,318.3 191.85,318.3 192.41,318.3 192.98,318.3 193.54,318.3 194.1,318.3 194.67,318.3 195.23,318.3 195.79,318.3 196.36,318.3 196.92,318.3 197.48,318.3 198.05,318.3" fill="none" stroke="#ff0000" stroke-width="0.6" stroke-linejoin="round" stroke-opacity="0.8"/>
<polyline points="29.65,332.4 30.21,332.4 30.78,332.4 31.34,332.4 31.9,332.4 32.47,332.4 33.03,332.4 33.59,332.4 34.16,332.4 34.72,332.4 35.28,332.4 35.85,332.4 36.41,332.4 36.97,332.4 37.53,332.4 38.1,332.4 38.66,332.4 39.22,332.4 39.79,332.4 40.35,332.4 40.91,332.4 41.48,332.4 42.04,332.4 42.6,332.4 43.17,332.4 43.73,332.4 44.29,332.4 44.86,332.4 45.42,332.4 45.98,332.4 46.55,332.4 47.11,332.4 47.67,332.4 48.24,332.4 48.8,332.4 49.36,332.4 49.93,332.4 50.49,332.4 51.05,332.4 51.61,332.4 52.18,332.4 52.74,332.4 53.3,332.4 53.87,332.4 54.43,332.4 54.99,332.4 55.56,332.4 56.12,332.4 56.68,332.4 57.25,332.4 57.81,332.4 58.37,332.4 58.94,332.4 59.5,332.4 60.06,332.4 60.63,332.4 61.19,332.4 61.75,332.4 62.32,332.4 62.88,332.4 63.44,332.4 64.01,332.4 64.57,332.4 65.13,332.4 65.69,332.4 66.26,332.4 66.82,332.4 67.38,332.4 67.95,332.4 68.51,332.4 69.07,332.4 69.64,332.4 70.2,332.4 70.76,332.4 71.33,332.4 71.89,332.4 72.45,332.4 73.02,332.4 73.58,332.4 74.14,332.4 74.71,332.4 75.27,332.4 75.83,332.4 76.4,332.4 76.96,332.4 77.52,332.4 78.09,332.4 78.65,332.4 79.21,332.4 79.77,332.4 80.34,332.4 80.9,332.4 81.46,332.4 82.03,332.4 82.59,332.4 83.15,332.4 83.72,332.4 84.28,332.4 84.84,332.4 85.41,332.4 85.97,332.4 86.53,332.4 87.1,332.4 87.66,332.4 88.22,332.4 88.79,332.4 89.35,332.4 89.91,332.4 90.48,332.4 91.04,332.4 91.6,332.4 92.17,332.4 92.73,332.4 93.29,332.4 93.85,332.4 94.42,332.4 94.98,332.4 95.54,332.4 96.11,332.4 96.67,332.4 97.23,332.4 97.8,332.4 98.36,332.4 98.92,332.4 99.49,332.4 100.05,332.4 100.61,332.4 101.18,332.4 101.74,332.4 102.3,332.4 102.87,332.4 103.43,332.4 103.99,332.4 104.56,332.4 105.12,332.4 105.68,332.4 106.25,332.4 106.81,332.4 107.37,332.4 107.93,332.4 108.5,332.4 109.06,332.4 109.62,332.4 110.19,332.4 110.75,332.4 111.31,332.4 111.88,332.4 112.44,332.4 113,332.4 113.57,332.4 114.13,332.4 114.69,332.4 115.26,332.4 115.82,332.4 116.38,332.4 116.95,332.4 117.51,332.4 118.07,332.4 118.64,332.4 119.2,332.4 119.76,332.4 120.33,332.4 120.89,332.4 121.45,332.4 122.01,332.4 122.58,332.4 123.14,332.4 123.7,332.4 124.27,332.4 124.83,332.4 125.39,332.4 125.96,332.4 126.52,332.4 127.08,332.4 127.65,332.4 128.21,332.4 128.77,332.4 129.34,332.4 129.9,332.4 130.46,332.4 131.03,332.4 131.59,332.4 132.15,332.4 132.72,332.4 133.28,332.4 133.84,332.4 134.41,332.4 134.97,332.4 135.53,332.4 136.09,332.4 136.66,332.4 137.22,332.4 137.78,332.4 138.35,332.4 138.91,332.4 139.47,332.4 140.04,332.4 140.6,332.4 141.16,332.4 141.73,332.4 142.29,332.4 142.85,332.4 143.42,332.4 143.98,332.4 144.54,332.4 145.11,332.4 145.67,332.4 146.23,332.4 146.8,332.4 147.36,332.4 147.92,332.4 148.49,332.4 149.05,332.4 149.61,332.4 150.17,332.4 150.74,332.4 151.3,332.4 151.86,332.4 152.43,332.4 152.99,332.4 153.55,332.4 154.12,332.4 154.68,332.4 155.24,332.4 155.81,332.4 156.37,332.4 156.93,332.4 157.5,332.4 158.06,332.4 158.62,332.4 159.19,332.4 159.75,332.4 160.31,332.4 160.88,332.4 161.44,332.4 162,332.4 162.57,332.4 163.13,332.4 163.69,332.4 164.25,332.4 164.82,332.4 165.38,332.4 165.94,332.4 166.51,332.4 167.07,332.4 167.3,331.86 167.56,326.19 168.19,331.86 169.07,330.6 169.82,332.49 170.71,329.97 171.59,332.11 172.59,330.85 173.6,332.49 174.48,329.34 175.11,331.61 175.74,329.34 176.37,326.19 177,330.6 177.63,328.08 178.26,332.11 178.89,331.86 179.9,329.34 180.78,321.78 181.41,318.01 181.91,325.56 182.42,325.56 182.92,321.78 183.3,323.04 183.93,329.34 184.56,328.08 185.19,325.56 185.82,321.78 186.32,326.82 186.7,330.6 187.2,325.56 187.71,323.04 188.21,328.08 188.72,326.82 189.22,321.78 189.6,319.26 189.97,321.78 190.23,315.49 190.73,316.75 191.11,309.19 191.49,299.74 191.99,315.49 192.49,325.56 192.87,316.75 193.12,306.67 193.5,321.78 194.01,331.86 194.38,315.49 194.63,305.41 195.14,319.26 195.52,326.82 196.02,321.78 196.52,312.97 197.03,309.19 197.53,301.63 197.78,315.49 198.04,325.56" fill="none" stroke="#0000ff" stroke-width="0.6" stroke-linejoin="round" stroke-opacity="0.8"/>
<polyline points="215,319.6 215.56,319.6 216.13,319.6 216.69,319.6 217.25,319.6 217.82,319.6 218.38,319.6 218.94,319.6 219.51,319.6 220.07,319.6 220.63,319.6 221.2,319.6 221.76,319.6 222.32,319.6 222.88,319.6 223.45,319.6 224.01,319.6 224.57,319.6 225.14,319.6 225.7,319.6 226.26,319.6 226.83,319.6 227.39,319.6 227.95,319.6 228.52,319.6 229.08,319.6 229.64,319.6 230.21,319.6 230.77,319.6 231.33,319.6 231.9,319.6 232.46,319.6 233.02,319.6 233.59,319.6 234.15,319.6 234.71,319.6 235.28,319.6 235.84,319.6 236.4,319.6 236.96,319.6 237.53,319.6 238.09,319.6 238.65,319.6 239.22,319.6 239.78,319.6 240.34,319.6 240.91,319.6 241.47,319.6 242.03,319.6 242.6,319.6 243.16,319.6 243.72,319.6 244.29,319.6 244.85,319.6 245.41,319.6 245.98,319.6 246.54,319.6 247.1,319.6 247.67,319.6 248.23,319.6 248.79,319.6 249.36,319.6 249.92,319.6 250.48,319.6 251.04,319.6 251.61,319.6 252.17,319.6 252.73,319.6 253.3,319.6 253.86,319.6 254.42,319.6 254.99,319.6 255.55,319.6 256.11,319.6 256.68,319.6 257.24,319.6 257.8,319.6 258.37,319.6 258.93,319.6 259.49,319.6 260.06,319.6 260.62,319.6 261.18,319.6 261.75,319.6 262.31,319.6 262.87,319.6 263.44,319.6 264,319.6 264.56,319.6 265.12,319.6 265.69,319.6 266.25,319.6 266.81,319.6 267.38,319.6 267.94,319.6 268.5,319.6 269.07,319.6 269.63,319.6 270.19,319.6 270.76,319.6 271.32,319.6 271.88,319.6 272.45,319.6 273.01,319.6 273.57,319.6 274.14,319.6 274.7,319.6 275.26,319.6 275.83,319.6 276.05,318.04 276.8,316.98 277.56,318.04 278.77,317.43 279.82,318.04 280.88,317.43 281.79,323.03 282.85,318.04 283.9,316.98 285.11,318.49 285.87,316.98 286.62,318.04 287.38,320.76 288.14,319.55 288.89,322.27 289.65,320.46 290.7,323.03 291.91,320 292.67,318.49 293.42,317.74 294.18,323.03 295.39,318.49 296.45,323.78 297.5,318.49 298.41,323.03 299.47,319.25 300.68,306.4 301.74,323.78 302.95,312.45 304,323.78 305.06,313.2 306.27,323.78 307.78,304.14 308.99,322.27 310.05,320.76 311.11,325.29 312.32,317.74 313.37,307.91 314.28,322.27 315.34,299.6 316.4,323.78 317.6,320.76 318.66,323.78 319.87,317.74 321.08,322.27 322.14,313.96 323.2,323.78 324.41,316.23 325.61,323.03 326.67,308.67 327.73,323.78 328.94,311.69 329.09,323.66 329.91,305.65 331.06,325.29 332.37,298.28 333.19,318.74 334,325.29 335.15,312.2 336.46,320.38 337.77,315.47 338.92,296.64 340.06,323.66 341.37,318.74 342.52,322.02 343.5,315.47 344.32,323.66 345.14,304.01 345.96,325.29 347.1,307.28 348.25,323.66 349.23,297.46 350.05,318.74 350.7,293.37 351.69,325.29 352.83,302.37 353.65,318.74 354.47,297.46 355.29,325.29 356.11,299.1 356.93,323.66 357.74,295 358.89,322.02 359.87,302.37 360.69,318.74 361.51,295 362.33,322.02 363.15,295.82 363.97,318.74 364.78,297.46 365.6,323.66 366.42,295.82 367.24,318.74 368.06,300.73 368.88,320.38 369.7,293.37 370.51,317.11 371.33,297.46 372.15,320.38 372.97,301.55 373.79,318.74 374.61,290.09 375.43,322.02 376.24,295 377.06,318.74 377.88,300.73 378.7,320.38 379.52,299.1 380.34,317.11 381.16,304.01 381.97,288.46 383.12,310.56 383.61,312.2" fill="none" stroke="#ff0000" stroke-width="0.6" stroke-linejoin="round" stroke-opacity="0.8"/>
<polyline points="215,319.4 215.56,319.4 216.13,319.4 216.69,319.4 217.25,319.4 217.82,319.4 218.38,319.4 218.94,319.4 219.51,319.4 220.07,319.4 220.63,319.4 221.2,319.4 221.76,319.4 222.32,319.4 222.88,319.4 223.45,319.4 224.01,319.4 224.57,319.4 225.14,319.4 225.7,319.4 226.26,319.4 226.83,319.4 227.39,319.4 227.95,319.4 228.52,319.4 229.08,319.4 229.64,319.4 230.21,319.4 230.77,319.4 231.33,319.4 231.9,319.4 232.46,319.4 233.02,319.4 233.59,319.4 234.15,319.4 234.71,319.4 235.28,319.4 235.84,319.4 236.4,319.4 236.96,319.4 237.53,319.4 238.09,319.4 238.65,319.4 239.22,319.4 239.78,319.4 240.34,319.4 240.91,319.4 241.47,319.4 242.03,319.4 242.6,319.4 243.16,319.4 243.72,319.4 244.29,319.4 244.85,319.4 245.41,319.4 245.98,319.4 246.54,319.4 247.1,319.4 247.67,319.4 248.23,319.4 248.79,319.4 249.36,319.4 249.92,319.4 250.48,319.4 251.04,319.4 251.61,319.4 252.17,319.4 252.73,319.4 253.3,319.4 253.86,319.4 254.42,319.4 254.99,319.4 255.55,319.4 256.11,319.4 256.68,319.4 257.24,319.4 257.8,319.4 258.37,319.4 258.93,319.4 259.49,319.4 260.06,319.4 260.62,319.4 261.18,319.4 261.75,319.4 262.31,319.4 262.87,319.4 263.44,319.4 264,319.4 264.56,319.4 265.12,319.4 265.69,319.4 266.25,319.4 266.81,319.4 267.38,319.4 267.94,319.4 268.5,319.4 269.07,319.4 269.63,319.4 270.19,319.4 270.76,319.4 271.32,319.4 271.88,319.4 272.45,319.4 273.01,319.4 273.57,319.4 274.14,319.4 274.7,319.4 275.26,319.4 275.83,319.4 276.39,319.4 276.95,319.4 277.52,319.4 278.08,319.4 278.64,319.4 279.2,319.4 279.77,319.4 280.33,319.4 280.89,319.4 281.46,319.4 282.02,319.4 282.58,319.4 283.15,319.4 283.71,319.4 284.27,319.4 284.84,319.4 285.4,319.4 285.96,319.4 286.53,319.4 287.09,319.4 287.65,319.4 288.22,319.4 288.78,319.4 289.34,319.4 289.91,319.4 290.47,319.4 291.03,319.4 291.6,319.4 292.16,319.4 292.72,319.4 293.28,319.4 293.85,319.4 294.41,319.4 294.97,319.4 295.54,319.4 296.1,319.4 296.66,319.4 297.23,319.4 297.79,319.4 298.35,319.4 298.92,319.4 299.48,319.4 300.04,319.4 300.61,319.4 301.17,319.4 301.73,319.4 302.3,319.4 302.86,319.4 303.42,319.4 303.99,319.4 304.55,319.4 305.11,319.4 305.68,319.4 306.24,319.4 306.8,319.4 307.36,319.4 307.93,319.4 308.49,319.4 309.05,319.4 309.62,319.4 310.18,319.4 310.74,319.4 311.31,319.4 311.87,319.4 312.43,319.4 313,319.4 313.56,319.4 314.12,319.4 314.69,319.4 315.25,319.4 315.81,319.4 316.38,319.4 316.94,319.4 317.5,319.4 318.07,319.4 318.63,319.4 319.19,319.4 319.76,319.4 320.32,319.4 320.88,319.4 321.44,319.4 322.01,319.4 322.57,319.4 323.13,319.4 323.7,319.4 324.26,319.4 324.82,319.4 325.39,319.4 325.95,319.4 326.51,319.4 327.08,319.4 327.64,319.4 328.2,319.4 328.77,319.4 329.33,319.4 329.89,319.4 330.46,319.4 331.02,319.4 331.58,319.4 332.15,319.4 332.71,319.4 333.27,319.4 333.84,319.4 334.4,319.4 334.96,319.4 335.52,319.4 336.09,319.4 336.65,319.4 337.21,319.4 337.78,319.4 338.34,319.4 338.9,319.4 339.47,319.4 340.03,319.4 340.59,319.4 341.16,319.4 341.72,319.4 342.28,319.4 342.85,319.4 343.41,319.4 343.97,319.4 344.54,319.4 345.1,319.4 345.66,319.4 346.23,319.4 346.79,319.4 347.35,319.4 347.92,319.4 348.48,319.4 349.04,319.4 349.6,319.4 350.17,319.4 350.73,319.4 351.29,319.4 351.86,319.4 352.42,319.4 352.98,319.4 353.55,319.4 354.11,319.4 354.67,319.4 355.24,319.4 355.8,319.4 356.36,319.4 356.93,319.4 357.49,319.4 358.05,319.4 358.62,319.4 359.18,319.4 359.74,319.4 360.31,319.4 360.87,319.4 361.43,319.4 362,319.4 362.56,319.4 363.12,319.4 363.68,319.4 364.25,319.4 364.81,319.4 365.37,319.4 365.94,319.4 366.5,319.4 367.06,319.4 367.63,319.4 368.19,319.4 368.75,319.4 369.32,319.4 369.88,319.4 370.44,319.4 371.01,319.4 371.57,319.4 372.13,319.4 372.7,319.4 373.26,319.4 373.82,319.4 374.39,319.4 374.95,319.4 375.51,319.4 376.08,319.4 376.64,319.4 377.2,319.4 377.76,319.4 378.33,319.4 378.89,319.4 379.45,319.4 380.02,319.4 380.58,319.4 381.14,319.4 381.71,319.4 382.27,319.4 382.83,319.4 383.4,319.4 383.96,319.4" fill="none" stroke="#0000ff" stroke-width="0.6" stroke-linejoin="round" stroke-opacity="0.8"/>
<polyline points="29.65,378.4 30.21,378.4 30.78,378.4 31.34,378.4 31.9,378.4 32.47,378.4 33.03,378.4 33.59,378.4 34.16,378.4 34.72,378.4 35.28,378.4 35.85,378.4 36.41,378.4 36.97,378.4 37.53,378.4 38.1,378.4 38.66,378.4 39.22,378.4 39.79,378.4 40.35,378.4 40.91,378.4 41.48,378.4 42.04,378.4 42.6,378.4 43.17,378.4 43.73,378.4 44.29,378.4 44.86,378.4 45.42,378.4 45.98,378.4 46.55,378.4 47.11,378.4 47.67,378.4 48.24,378.4 48.8,378.4 49.36,378.4 49.93,378.4 50.49,378.4 51.05,378.4 51.61,378.4 52.18,378.4 52.74,378.4 53.3,378.4 53.87,378.4 54.43,378.4 54.99,378.4 55.56,378.4 56.12,378.4 56.68,378.4 57.25,378.4 57.81,378.4 58.37,378.4 58.94,378.4 59.5,378.4 60.06,378.4 60.67,378.08 61.3,374.05 61.93,378.08 62.56,377.45 63.82,376.82 64.45,378.08 65.08,376.19 66.34,376.82 66.96,375.56 67.59,376.19 68.22,374.93 68.85,374.05 69.48,375.56 70.11,373.04 70.74,366.75 71.37,362.34 72,369.26 72.63,371.78 73.26,369.89 73.89,368.01 74.52,371.78 75.15,356.67 75.78,350.37 76.41,349.11 77.04,359.19 77.67,366.75 78.3,378.08 78.93,365.49 79.56,357.93 80.19,362.97 80.82,369.26 81.45,361.71 82.08,366.75 82.71,370.52 83.34,359.19 83.97,364.23 84.6,371.78 85.23,352.89 85.86,356.67 86.49,349.11 87.12,346.59 87.75,359.19 88.38,347.85 89.01,351.63 89.63,365.49 90.26,349.11 90.89,354.15 91.52,359.19 92.15,366.75 92.78,351.63 93.41,346.59 94.04,359.19 94.67,349.11 95.3,345.34 95.93,364.23 96.56,350.37 97.19,346.59 97.82,359.19 98.45,345.34 99.08,344.08 99.71,365.49 100.34,346.59 100.97,351.63 101.6,345.34 102.23,369.26 102.86,352.89 103.49,345.34 104.12,359.19 104.41,365.49 105.04,349.11 105.67,345.34 106.3,355.41 106.93,347.85 107.56,359.19 108.19,344.08 108.82,346.59 109.45,352.89 110.08,345.34 110.71,356.67 111.34,349.11 111.96,346.59 112.59,359.19 113.22,345.34 113.85,355.41 114.48,342.82 115.11,352.89 115.74,347.85 116.37,357.93 117,345.34 117.63,351.63 118.26,347.85 118.89,355.41 119.52,344.08 120.15,354.15 120.78,350.37 121.41,356.67 122.04,342.82 122.67,347.85 123.3,352.89 123.93,346.59 124.56,364.23 125.19,347.85 125.82,345.34 126.45,350.37 127.08,342.82 127.71,349.11 128.34,344.08 128.97,347.85 129.6,341.56 130.5,348.11 131.01,344.08 131.51,350.12 132.02,345.08 132.52,343.07 133.02,349.11 133.53,346.09 134.03,351.13 134.53,344.08 135.04,348.11 135.54,350.12 136.05,345.08 136.55,349.11 137.05,355.16 137.56,342.06 138.06,347.1 138.56,340.05 139.07,348.11 139.57,351.13 140.08,343.07 140.58,341.05 141.08,345.08 141.59,353.14 142.09,340.05 142.59,338.03 143.1,343.07 143.6,347.1 144.11,341.05 144.61,345.08 145.11,355.16 145.62,341.05 146.12,349.11 146.62,340.05 147.13,346.09 147.63,339.04 148.14,374.3 148.44,381.36 148.74,354.15 149.14,340.05 149.65,349.11 150.15,343.07 150.65,347.1 151.16,352.14 151.66,344.08 152.17,350.12 152.67,347.1 153.17,338.03 153.68,347.1 154.18,337.02 154.69,354.15 155.19,342.06 155.69,348.11 156.2,337.02 156.7,340.05 157.2,344.08 157.71,345.08 158.21,346.09 158.72,343.57 159.19,343.8 159.75,343.8 160.31,343.8 160.88,343.8 161.44,343.8 162,343.8 162.57,343.8 163.13,343.8 163.69,343.8 164.25,343.8 164.82,343.8 165.38,343.8 165.94,343.8 166.51,343.8 167.07,343.8 167.63,343.8 168.2,343.8 168.76,343.8 169.32,343.8 169.89,343.8 170.45,343.8 171.01,343.8 171.58,343.8 172.14,343.8 172.7,343.8 173.27,343.8 173.83,343.8 174.39,343.8 174.96,343.8 175.52,343.8 176.08,343.8 176.65,343.8 177.21,343.8 177.77,343.8 178.33,343.8 178.9,343.8 179.46,343.8 180.02,343.8 180.59,343.8 181.15,343.8 181.71,343.8 182.28,343.8 182.84,343.8 183.4,343.8 183.97,343.8 184.53,343.8 185.09,343.8 185.66,343.8 186.22,343.8 186.78,343.8 187.35,343.8 187.91,343.8 188.47,343.8 189.04,343.8 189.6,343.8 190.16,343.8 190.73,343.8 191.29,343.8 191.85,343.8 192.41,343.8 192.98,343.8 193.54,343.8 194.1,343.8 194.67,343.8 195.23,343.8 195.79,343.8 196.36,343.8 196.92,343.8 197.48,343.8 198.05,343.8" fill="none" stroke="#ff0000" stroke-width="0.6" stroke-linejoin="round" stroke-opacity="0.8"/>
<polyline points="29.65,378.3 30.21,378.3 30.78,378.3 31.34,378.3 31.9,378.3 32.47,378.3 33.03,378.3 33.59,378.3 34.16,378.3 34.72,378.3 35.28,378.3 35.85,378.3 36.41,378.3 36.97,378.3 37.53,378.3 38.1,378.3 38.66,378.3 39.22,378.3 39.79,378.3 40.35,378.3 40.91,378.3 41.48,378.3 42.04,378.3 42.6,378.3 43.17,378.3 43.73,378.3 44.29,378.3 44.86,378.3 45.42,378.3 45.98,378.3 46.55,378.3 47.11,378.3 47.67,378.3 48.24,378.3 48.8,378.3 49.36,378.3 49.93,378.3 50.49,378.3 51.05,378.3 51.61,378.3 52.18,378.3 52.74,378.3 53.3,378.3 53.87,378.3 54.43,378.3 54.99,378.3 55.56,378.3 56.12,378.3 56.68,378.3 57.25,378.3 57.81,378.3 58.37,378.3 58.94,378.3 59.5,378.3 60.06,378.3 60.63,378.3 61.19,378.3 61.75,378.3 62.32,378.3 62.88,378.3 63.44,378.3 64.01,378.3 64.57,378.3 65.13,378.3 65.69,378.3 66.26,378.3 66.82,378.3 67.38,378.3 67.95,378.3 68.51,378.3 69.07,378.3 69.64,378.3 70.2,378.3 70.76,378.3 71.33,378.3 71.89,378.3 72.45,378.3 73.02,378.3 73.58,378.3 74.14,378.3 74.71,378.3 75.27,378.3 75.83,378.3 76.4,378.3 76.96,378.3 77.52,378.3 78.09,378.3 78.65,378.3 79.21,378.3 79.77,378.3 80.34,378.3 80.9,378.3 81.46,378.3 82.03,378.3 82.59,378.3 83.15,378.3 83.72,378.3 84.28,378.3 84.84,378.3 85.41,378.3 85.97,378.3 86.53,378.3 87.1,378.3 87.66,378.3 88.22,378.3 88.79,378.3 89.35,378.3 89.91,378.3 90.48,378.3 91.04,378.3 91.6,378.3 92.17,378.3 92.73,378.3 93.29,378.3 93.85,378.3 94.42,378.3 94.98,378.3 95.54,378.3 96.11,378.3 96.67,378.3 97.23,378.3 97.8,378.3 98.36,378.3 98.92,378.3 99.49,378.3 100.05,378.3 100.61,378.3 101.18,378.3 101.74,378.3 102.3,378.3 102.87,378.3 103.43,378.3 103.99,378.3 104.56,378.3 105.12,378.3 105.68,378.3 106.25,378.3 106.81,378.3 107.37,378.3 107.93,378.3 108.5,378.3 109.06,378.3 109.62,378.3 110.19,378.3 110.75,378.3 111.31,378.3 111.88,378.3 112.44,378.3 113,378.3 113.57,378.3 114.13,378.3 114.69,378.3 115.26,378.3 115.82,378.3 116.38,378.3 116.95,378.3 117.51,378.3 118.07,378.3 118.64,378.3 119.2,378.3 119.76,378.3 120.33,378.3 120.89,378.3 121.45,378.3 122.01,378.3 122.58,378.3 123.14,378.3 123.7,378.3 124.27,378.3 124.83,378.3 125.39,378.3 125.96,378.3 126.52,378.3 127.08,378.3 127.65,378.3 128.21,378.3 128.77,378.3 129.34,378.3 129.9,378.3 130.46,378.3 131.03,378.3 131.59,378.3 132.15,378.3 132.72,378.3 133.28,378.3 133.53,377.32 134.03,375.31 134.53,378.33 135.04,377.83 135.54,376.82 136.05,376.32 136.55,377.83 137.05,377.32 137.56,378.33 138.06,376.32 138.56,376.82 139.07,375.31 139.57,373.29 140.08,375.31 140.58,373.8 141.08,372.29 141.59,374.3 142.09,371.28 142.59,375.81 143.1,368.76 143.6,368.26 144.11,370.27 144.61,367.25 145.11,369.26 145.62,370.78 146.12,368.26 146.62,367.25 147.13,356.17 147.63,355.16 148.14,370.27 148.64,372.29 149.14,364.23 149.65,351.13 150.15,356.17 150.65,364.23 151.16,369.26 151.66,354.15 152.17,358.18 152.67,372.29 153.17,359.19 153.68,355.16 154.18,353.14 154.69,358.18 155.19,355.16 155.69,351.13 156.2,354.15 156.7,358.18 157.2,352.14 157.71,368.26 158.21,354.15 158.72,359.19 159.22,353.14 159.72,360.2 160.23,357.17 160.73,361.2 161.23,354.15 161.74,359.19 162.24,352.14 162.75,348.11 163.25,352.14 163.75,357.17 164.26,364.23 164.76,342.56 165.26,349.11 165.77,354.15 166.27,349.11 166.78,351.13 167.28,353.14 167.78,357.17 168.29,352.14 168.79,350.12 169.29,354.15 169.53,357.17 170.04,354.15 170.54,349.11 171.05,356.17 171.55,347.1 172.05,344.08 172.56,345.08 173.06,347.1 173.56,348.11 174.07,349.11 174.57,350.12 175.08,349.11 175.58,348.11 176.08,350.12 176.59,349.62 177.09,349.11 177.59,348.11 178.1,344.08 178.6,342.06 179.11,347.1 179.61,343.07 180.11,348.11 180.62,345.08 181.12,343.07 181.62,346.09 182.13,342.06 182.63,344.08 183.14,343.07 183.64,341.05 184.14,345.08 184.65,342.06 185.15,340.05 185.65,344.08 186.16,342.06 186.66,339.04 187.17,346.09 187.67,340.05 188.17,343.07 188.68,347.1 189.18,341.05 189.69,345.08 190.19,340.05 190.69,347.1 191.2,342.06 191.7,339.04 192.2,344.08 192.71,340.05 193.21,342.06 193.72,345.08 194.22,348.11 194.72,341.05 195.23,344.08 195.73,340.05 196.23,342.06 196.74,339.04 197.24,341.05 197.75,338.53 198.25,340.05" fill="none" stroke="#0000ff" stroke-width="0.6" stroke-linejoin="round" stroke-opacity="0.8"/>
<polyline points="215,374 215.56,374 216.13,374 216.69,374 217.25,374 217.82,374 218.38,374 218.94,374 219.51,374 220.07,374 220.63,374 221.2,374 221.76,374 222.32,374 222.88,374 223.45,374 224.01,374 224.57,374 225.14,374 225.7,374 226.26,374 226.83,374 227.39,374 227.95,374 228.52,374 229.08,374 229.64,374 230.21,374 230.77,374 231.33,374 231.9,374 232.46,374 233.02,374 233.59,374 234.15,374 234.71,374 235.28,374 235.84,374 236.4,374 236.96,374 237.53,374 238.09,374 238.65,374 239.22,374 239.78,374 240.34,374 240.91,374 241.47,374 242.03,374 242.6,374 243.16,374 243.72,374 244.29,374 244.85,374 245.41,374 245.98,374 246.54,374 247.1,374 247.67,374 248.23,374 248.79,374 249.36,374 249.92,374 250.48,374 251.04,374 251.61,374 252.17,374 252.73,374 253.3,374 253.86,374 254.42,374 254.99,374 255.55,374 256.11,374 256.68,374 257.24,374 257.8,374 258.37,374 258.93,374 259.49,374 260.06,374 260.62,374 261.18,374 261.75,374 261.93,373.04 262.56,370.52 263.19,371.78 263.82,369.89 264.45,371.78 265.08,369.26 265.71,371.15 266.34,369.89 266.96,368.01 267.59,369.26 268.22,366.12 268.85,368.01 269.48,369.89 270.11,368.63 270.74,370.52 271.37,368.01 272,369.89 272.63,366.75 273.26,370.52 273.89,362.97 274.52,354.78 275.15,364.23 275.78,368.63 276.41,366.12 277.04,369.89 277.67,359.19 278.3,368.01 278.93,364.23 279.56,369.89 280.19,362.97 280.82,368.01 281.45,366.75 282.08,370.52 282.71,362.97 283.34,368.01 283.97,365.49 284.6,361.08 285.23,366.75 285.86,362.97 286.49,368.63 287.12,361.08 287.75,365.49 288.38,357.3 289.01,367.38 289.63,361.08 290.26,364.86 290.89,357.93 291.52,369.26 292.15,356.67 292.78,364.23 293.41,355.41 294.04,370.52 294.67,354.78 295.3,364.23 295.93,371.15 296.56,356.67 297.19,366.75 297.82,353.52 298.45,365.49 299.08,356.04 299.71,369.26 300.34,355.41 300.97,365.49 301.6,354.15 302.23,368.01 302.86,354.78 303.49,364.86 304.12,354.15 305,364.23 305.04,364.23 305.67,353.52 306.3,361.71 306.93,354.15 307.56,365.49 308.19,356.04 308.82,363.6 309.45,354.78 310.08,365.49 310.71,353.52 311.34,362.34 311.96,355.41 312.59,364.23 313.22,354.15 313.85,359.19 314.48,352.89 315.11,369.89 315.74,356.04 316.37,352.26 317,359.19 317.63,352.89 318.26,355.41 318.89,351.63 319.52,357.93 320.15,352.89 320.78,356.04 321.41,352.26 322.04,362.34 322.67,351.63 323.3,354.15 323.93,352.26 324.56,356.67 325.19,352.89 325.82,357.93 326.45,351.63 327.08,354.78 327.71,356.04 328.34,353.52 328.97,358.56 329.6,359.82 330.23,349.11 330.86,354.15 331.49,351 332.12,355.41 332.75,350.37 333.38,353.52 334.01,349.74 334.63,354.78 335.26,351.63 335.89,356.67 336.52,349.11 337.15,352.89 337.78,361.08 338.41,350.37 339.04,356.67 339.67,348.48 340.3,351.63 340.93,347.22 341.56,350.37 342.19,345.96 342.82,347.85 343.45,345.34 344.08,351 344.71,346.59 345.34,352.89 345.97,344.71 346.6,351.63 347.23,345.34 347.86,354.78 348.49,346.59 349.12,352.89 350,347.85 350.04,342.82 350.67,354.78 351.3,344.71 351.93,351.63 352.56,343.45 353.19,352.89 353.82,341.56 354.45,350.37 355.08,345.96 355.71,341.56 356.34,350.37 356.96,344.71 357.59,356.67 358.22,343.45 358.85,351.63 359.48,341.56 360.11,351 360.74,345.96 361.37,341.56 362,351.63 362.63,340.3 363.26,349.11 363.89,345.34 364.52,351.63 365.15,340.93 365.78,347.85 366.41,342.82 367.04,349.74 367.67,339.67 368.3,350.37 368.93,344.08 369.56,351.63 370.19,341.56 370.82,346.59 371.45,354.15 372.08,344.08 372.71,352.89 373.34,339.04 373.97,347.85 374.6,341.56 375.23,352.89 375.86,345.96 376.49,351.63 377.12,342.82 377.75,347.85 378.38,350.37 379.01,341.56 379.63,347.85 380.26,339.04 380.89,345.34 381.52,343.45 382.15,339.04 382.78,346.59 383.41,350.37" fill="none" stroke="#ff0000" stroke-width="0.6" stroke-linejoin="round" stroke-opacity="0.8"/>
<polyline points="215,374 215.56,374 216.13,374 216.69,374 217.25,374 217.82,374 218.38,374 218.94,374 219.51,374 220.07,374 220.63,374 221.2,374 221.76,374 222.32,374 222.88,374 223.45,374 224.01,374 224.57,374 225.14,374 225.7,374 226.26,374 226.83,374 227.39,374 227.95,374 228.52,374 229.08,374 229.64,374 230.21,374 230.77,374 231.33,374 231.9,374 232.46,374 233.02,374 233.59,374 234.15,374 234.71,374 235.28,374 235.84,374 236.4,374 236.96,374 237.53,374 238.09,374 238.65,374 239.22,374 239.78,374 240.34,374 240.91,374 241.47,374 242.03,374 242.6,374 243.16,374 243.72,374 244.29,374 244.85,374 245.41,374 245.98,374 246.54,374 247.1,374 247.67,374 248.23,374 248.79,374 249.36,374 249.92,374 250.48,374 251.04,374 251.61,374 252.17,374 252.73,374 253.3,374 253.86,374 254.42,374 254.99,374 255.55,374 256.11,374 256.68,374 257.24,374 257.8,374 258.37,374 258.93,374 259.49,374 260.06,374 260.62,374 261.18,374 261.75,374 262.31,374 262.87,374 263.44,374 264,374 264.56,374 265.12,374 265.69,374 266.25,374 266.81,374 267.38,374 267.94,374 268.5,374 269.07,374 269.63,374 270.19,374 270.76,374 271.32,374 271.88,374 272.45,374 273.01,374 273.57,374 274.14,374 274.7,374 275.26,374 275.83,374 276.39,374 276.95,374 277.52,374 278.08,374 278.64,374 279.2,374 279.77,374 280.33,374 280.89,374 281.46,374 282.02,374 282.58,374 283.15,374 283.71,374 284.27,374 284.84,374 285.4,374 285.96,374 286.53,374 287.09,374 287.65,374 288.22,374 288.78,374 289.34,374 289.91,374 290.47,374 291.03,374 291.6,374 292.16,374 292.72,374 293.28,374 293.85,374 294.41,374 294.97,374 295.54,374 296.1,374 296.66,374 297.23,374 297.79,374 298.35,374 298.92,374 299.48,374 300.04,374 300.61,374 301.17,374 301.73,374 302.3,374 302.86,374 303.42,374 303.99,374 304.55,374 305.11,374 305.68,374 306.24,374 306.8,374 307.36,374 307.93,374 308.49,374 309.05,374 309.62,374 310.18,374 310.74,374 311.31,374 311.87,374 312.43,374 313,374 313.56,374 314.12,374 314.69,374 315.25,374 315.81,374 316.38,374 316.94,374 317.5,374 318.07,374 318.63,374 319.19,374 319.76,374 320.32,374 320.88,374 321.44,374 322.01,374 322.57,374 323.13,374 323.7,374 324.26,374 324.82,374 325.39,374 325.95,374 326.51,374 327.08,374 327.64,374 328.2,374 328.77,374 329.33,374 329.89,374 330.46,374 331.02,374 331.58,374 332.15,374 332.71,374 333.27,374 333.84,374 334.4,374 334.96,374 335.52,374 336.09,374 336.65,374 337.21,374 337.78,374 338.34,374 338.9,374 339.47,374 340.03,374 340.59,374 341.16,374 341.72,374 342.28,374 342.85,374 343.41,374 343.97,374 344.54,374 345.1,374 345.66,374 346.23,374 346.79,374 347.35,374 347.92,374 348.48,374 349.04,374 349.6,374 350.17,374 350.73,374 351.29,374 351.86,374 352.56,373.04 353.19,374.05 353.82,372.41 354.45,374.3 355.08,371.78 355.71,374.3 356.34,371.78 356.96,374.05 357.59,371.15 358.22,374.3 358.85,371.78 359.48,373.67 360.11,369.89 360.74,373.67 361.37,370.52 362,373.04 362.63,368.63 363.26,373.67 363.89,370.52 364.52,366.12 365.15,371.78 365.78,366.75 366.41,371.15 367.04,365.49 367.67,371.78 368.3,366.12 368.93,368.63 369.56,365.49 370.19,370.52 370.82,366.75 371.45,369.26 372.08,365.49 372.71,362.97 373.34,358.56 373.97,361.08 374.6,360.45 375.23,364.23 375.86,359.19 376.49,361.08 377.12,357.93 377.75,362.97 378.38,364.86 379.01,357.93 379.63,361.71 380.26,359.19 380.89,364.23 381.52,371.78 382.15,361.08 382.78,366.12 383.41,358.56" fill="none" stroke="#0000ff" stroke-width="0.6" stroke-linejoin="round" stroke-opacity="0.8"/>
<polyline points="29.65,420.3 30.21,420.3 30.78,420.3 31.34,420.3 31.9,420.3 32.47,420.3 33.03,420.3 33.59,420.3 34.16,420.3 34.72,420.3 35.28,420.3 35.85,420.3 36.41,420.3 36.97,420.3 37.53,420.3 38.1,420.3 38.66,420.3 39.22,420.3 39.79,420.3 40.35,420.3 40.91,420.3 41.48,420.3 42.04,420.3 42.6,420.3 43.17,420.3 43.73,420.3 44.29,420.3 44.86,420.3 45.42,420.3 45.98,420.3 46.55,420.3 47.11,420.3 47.67,420.3 48.24,420.3 48.8,420.3 49.36,420.3 49.93,420.3 50.49,420.3 51.05,420.3 51.61,420.3 52.18,420.3 52.74,420.3 53.3,420.3 53.87,420.3 54.43,420.3 54.99,420.3 55.56,420.3 56.12,420.3 56.68,420.3 57.25,420.3 57.81,420.3 58.37,420.3 58.94,420.3 59.5,420.3 60.06,420.3 60.63,420.3 61.19,420.3 61.75,420.3 62.32,420.3 62.88,420.3 63.44,420.3 64.01,420.3 64.57,420.3 65.13,420.3 65.69,420.3 66.26,420.3 66.82,420.3 67.38,420.3 67.95,420.3 68.51,420.3 69.07,420.3 69.64,420.3 70.2,420.3 70.76,420.3 71.33,420.3 71.89,420.3 72.45,420.3 73.02,420.3 73.58,420.3 74.14,420.3 74.71,420.3 75.27,420.3 75.83,420.3 76.4,420.3 76.96,420.3 77.52,420.3 78.09,420.3 78.65,420.3 79.21,420.3 79.77,420.3 79.89,420.26 80.52,419.26 81.15,418.75 81.78,419.63 82.41,418.38 83.04,419.01 83.67,418 84.3,418.75 84.93,417.75 85.56,419.01 86.19,418 86.82,417.49 87.45,418 88.08,417.24 88.71,417.49 89.34,417.12 89.96,417.49 90.59,416.74 91.22,402.63 91.6,416.49 92.11,401.37 92.61,415.23 93.11,402.63 93.62,417.75 94.12,403.89 94.62,417.12 95.13,405.78 95.63,418.38 96.26,405.15 96.89,419.01 97.52,418.38 98.15,418 98.78,415.23 99.41,419.01 100.04,418 100.67,419.01 101.3,418.38 101.93,419.63 102.56,418.38 103.19,415.23 103.82,410.19 104.45,405.15 105.08,400.11 105.71,410.19 106.34,416.49 106.97,422.15 107.6,413.97 108.23,422.78 108.86,412.71 109.49,417.75 110.12,407.67 110.75,403.89 111.38,397.59 112.01,395.08 112.63,398.85 113.26,410.19 113.89,400.11 114.52,420.26 115.15,397.59 115.78,395.71 116.41,419.01 117.04,400.11 117.67,397.59 118.3,410.19 118.93,400.11 119.56,420.89 120.19,401.37 120.82,398.85 121.45,417.75 122.08,399.48 122.71,401.37 123.34,420.26 123.97,419.01 124.27,419 124.83,419 125.39,419 125.96,419 126.52,419 127.08,419 127.65,419 128.21,419 128.77,419 129.34,419 129.9,419 130.46,419 131.03,419 131.59,419 132.15,419 132.72,419 133.28,419 133.84,419 134.41,419 134.97,419 135.53,419 136.09,419 136.66,419 137.22,419 137.78,419 138.35,419 138.91,419 139.47,419 140.04,419 140.6,419 141.16,419 141.73,419 142.29,419 142.85,419 143.42,419 143.98,419 144.54,419 145.11,419 145.67,419 146.23,419 146.8,419 147.36,419 147.92,419 148.49,419 149.05,419 149.61,419 150.17,419 150.74,419 151.3,419 151.86,419 152.43,419 152.99,419 153.55,419 154.12,419 154.68,419 155.24,419 155.81,419 156.37,419 156.93,419 157.5,419 158.06,419 158.62,419 159.19,419 159.75,419 160.31,419 160.88,419 161.44,419 162,419 162.57,419 163.13,419 163.69,419 164.25,419 164.82,419 165.38,419 165.94,419 166.51,419 167.07,419 167.63,419 168.2,419 168.76,419 169.32,419 169.89,419 170.45,419 171.01,419 171.58,419 172.14,419 172.7,419 173.27,419 173.83,419 174.39,419 174.96,419 175.52,419 176.08,419 176.65,419 177.21,419 177.77,419 178.33,419 178.9,419 179.46,419 180.02,419 180.59,419 181.15,419 181.71,419 182.28,419 182.84,419 183.4,419 183.97,419 184.53,419 185.09,419 185.66,419 186.22,419 186.78,419 187.35,419 187.91,419 188.47,419 189.04,419 189.6,419 190.16,419 190.73,419 191.29,419 191.85,419 192.41,419 192.98,419 193.54,419 194.1,419 194.67,419 195.23,419 195.79,419 196.36,419 196.92,419 197.48,419 198.05,419" fill="none" stroke="#ff0000" stroke-width="0.6" stroke-linejoin="round" stroke-opacity="0.8"/>
<polyline points="29.65,420.3 30.21,420.3 30.78,420.3 31.34,420.3 31.9,420.3 32.47,420.3 33.03,420.3 33.59,420.3 34.16,420.3 34.72,420.3 35.28,420.3 35.85,420.3 36.41,420.3 36.97,420.3 37.53,420.3 38.1,420.3 38.66,420.3 39.22,420.3 39.79,420.3 40.35,420.3 40.91,420.3 41.48,420.3 42.04,420.3 42.6,420.3 43.17,420.3 43.73,420.3 44.29,420.3 44.86,420.3 45.42,420.3 45.98,420.3 46.55,420.3 47.11,420.3 47.67,420.3 48.24,420.3 48.8,420.3 49.36,420.3 49.93,420.3 50.49,420.3 51.05,420.3 51.61,420.3 52.18,420.3 52.74,420.3 53.3,420.3 53.87,420.3 54.43,420.3 54.99,420.3 55.56,420.3 56.12,420.3 56.68,420.3 57.25,420.3 57.81,420.3 58.37,420.3 58.94,420.3 59.5,420.3 60.06,420.3 60.63,420.3 61.19,420.3 61.75,420.3 62.32,420.3 62.88,420.3 63.44,420.3 64.01,420.3 64.57,420.3 65.13,420.3 65.69,420.3 66.26,420.3 66.82,420.3 67.38,420.3 67.95,420.3 68.51,420.3 69.07,420.3 69.64,420.3 70.2,420.3 70.76,420.3 71.33,420.3 71.89,420.3 72.45,420.3 73.02,420.3 73.58,420.3 74.14,420.3 74.71,420.3 75.27,420.3 75.83,420.3 76.4,420.3 76.96,420.3 77.52,420.3 78.09,420.3 78.65,420.3 79.21,420.3 79.77,420.3 80.34,420.3 80.9,420.3 81.46,420.3 82.03,420.3 82.59,420.3 83.15,420.3 83.72,420.3 84.28,420.3 84.84,420.3 85.41,420.3 85.97,420.3 86.53,420.3 87.1,420.3 87.66,420.3 88.22,420.3 88.79,420.3 89.35,420.3 89.91,420.3 90.48,420.3 91.04,420.3 91.6,420.3 92.17,420.3 92.73,420.3 93.29,420.3 93.85,420.3 94.42,420.3 94.98,420.3 95.54,420.3 96.11,420.3 96.67,420.3 97.23,420.3 97.8,420.3 98.36,420.3 98.92,420.3 99.49,420.3 100.05,420.3 100.61,420.3 101.18,420.3 101.74,420.3 102.3,420.3 102.87,420.3 103.43,420.3 103.99,420.3 104.56,420.3 105.12,420.3 105.68,420.3 106.25,420.3 106.81,420.3 107.37,420.3 107.93,420.3 108.5,420.3 109.06,420.3 109.62,420.3 110.19,420.3 110.75,420.3 111.31,420.3 111.88,420.3 112.44,420.3 113,420.3 113.57,420.3 114.13,420.3 114.69,420.3 115.26,420.3 115.82,420.3 116.38,420.3 116.95,420.3 117.51,420.3 118.07,420.3 118.64,420.3 119.2,420.3 119.76,420.3 120.33,420.3 120.89,420.3 121.45,420.3 122.01,420.3 122.58,420.3 123.14,420.3 123.7,420.3 124.27,420.3 124.83,420.3 125.39,420.3 125.96,420.3 126.52,420.3 127.08,420.3 127.65,420.3 128.21,420.3 128.77,420.3 129.34,420.3 129.9,420.3 130.46,420.3 131.03,420.3 131.59,420.3 132.15,420.3 132.72,420.3 133.28,420.3 133.84,420.3 134.41,420.3 134.97,420.3 135.53,420.3 136.09,420.3 136.66,420.3 137.22,420.3 137.78,420.3 138.35,420.3 138.91,420.3 139.47,420.3 140.04,420.3 140.6,420.3 141.16,420.3 141.73,420.3 142.29,420.3 142.85,420.3 143.42,420.3 143.98,420.3 144.54,420.3 145.11,420.3 145.67,420.3 146.23,420.3 146.8,420.3 147.36,420.3 147.92,420.3 148.49,420.3 149.05,420.3 149.61,420.3 150.17,420.3 150.74,420.3 151.3,420.3 151.86,420.3 152.43,420.3 152.99,420.3 153.55,420.3 154.12,420.3 154.68,420.3 155.24,420.3 155.81,420.3 156.37,420.3 156.93,420.3 157.5,420.3 158.06,420.3 158.62,420.3 159.19,420.3 159.75,420.3 160.31,420.3 160.88,420.3 161.44,420.3 162,420.3 162.57,420.3 163.13,420.3 163.69,420.3 164.25,420.3 164.82,420.3 165.38,420.3 165.94,420.3 166.51,420.3 166.93,419.78 167.43,416.01 168.19,419.78 169.19,420.29 170.45,419.28 171.71,420.29 172.97,419.78 174.23,420.29 175.49,419.28 176.75,420.29 178.01,419.78 179.27,417.26 180.53,409.71 181.28,404.67 182.04,412.23 183.05,419.78 184.06,417.26 185.06,418.52 186.07,412.23 186.83,407.19 187.58,403.41 188.34,409.71 189.35,407.19 190.1,412.23 191.11,403.41 192.12,409.71 193.12,413.49 193.88,407.19 194.63,410.97 195.64,414.75 196.4,407.19 196.9,402.15 197.66,409.71 198.16,414.75" fill="none" stroke="#0000ff" stroke-width="0.6" stroke-linejoin="round" stroke-opacity="0.8"/>
<polyline points="215,429.5 215.56,429.5 216.13,429.5 216.69,429.5 217.25,429.5 217.82,429.5 218.38,429.5 218.94,429.5 219.51,429.5 220.07,429.5 220.63,429.5 221.2,429.5 221.76,429.5 222.32,429.5 222.88,429.5 223.45,429.5 224.01,429.5 224.57,429.5 225.14,429.5 225.7,429.5 226.26,429.5 226.83,429.5 227.39,429.5 227.95,429.5 228.52,429.5 229.08,429.5 229.64,429.5 230.21,429.5 230.77,429.5 231.33,429.5 231.9,429.5 232.46,429.5 233.02,429.5 233.59,429.5 234.15,429.5 234.71,429.5 235.28,429.5 235.84,429.5 236.4,429.5 236.96,429.5 237.53,429.5 238.09,429.5 238.65,429.5 239.22,429.5 239.78,429.5 240.34,429.5 240.91,429.5 241.47,429.5 242.03,429.5 242.6,429.5 243.16,429.5 243.72,429.5 244.29,429.5 244.85,429.5 245.41,429.5 245.98,429.5 246.54,429.5 247.1,429.5 247.67,429.5 248.23,429.5 248.79,429.5 249.36,429.5 249.92,429.5 250.48,429.5 251.04,429.5 251.61,429.5 252.17,429.5 252.73,429.5 252.85,429.36 253.36,426.33 253.86,429.36 254.61,428.6 255.12,429.36 255.62,412.23 256.38,392.08 257.13,407.19 257.64,429.86 258.39,409.71 258.9,392.08 259.65,407.19 260.16,427.34 260.91,419.78 261.42,414.75 262.17,422.3 262.68,428.6 263.43,412.23 263.93,397.11 264.69,393.34 265.19,390.82 265.95,412.23 266.45,428.6 267.21,412.23 267.71,399.63 268.47,407.19 268.97,414.75 269.73,402.15 270.23,393.34 270.76,393.3 271.32,393.3 271.88,393.3 272.45,393.3 273.01,393.3 273.57,393.3 274.14,393.3 274.7,393.3 275.26,393.3 275.83,393.3 276.39,393.3 276.95,393.3 277.52,393.3 278.08,393.3 278.64,393.3 279.2,393.3 279.77,393.3 280.33,393.3 280.89,393.3 281.46,393.3 282.02,393.3 282.58,393.3 283.15,393.3 283.71,393.3 284.27,393.3 284.84,393.3 285.4,393.3 285.96,393.3 286.53,393.3 287.09,393.3 287.65,393.3 288.22,393.3 288.78,393.3 289.34,393.3 289.91,393.3 290.47,393.3 291.03,393.3 291.6,393.3 292.16,393.3 292.72,393.3 293.28,393.3 293.85,393.3 294.41,393.3 294.97,393.3 295.54,393.3 296.1,393.3 296.66,393.3 297.23,393.3 297.79,393.3 298.35,393.3 298.92,393.3 299.48,393.3 300.04,393.3 300.61,393.3 301.17,393.3 301.73,393.3 302.3,393.3 302.86,393.3 303.42,393.3 303.99,393.3 304.55,393.3 305.11,393.3 305.68,393.3 306.24,393.3 306.8,393.3 307.36,393.3 307.93,393.3 308.49,393.3 309.05,393.3 309.62,393.3 310.18,393.3 310.74,393.3 311.31,393.3 311.87,393.3 312.43,393.3 313,393.3 313.56,393.3 314.12,393.3 314.69,393.3 315.25,393.3 315.81,393.3 316.38,393.3 316.94,393.3 317.5,393.3 318.07,393.3 318.63,393.3 319.19,393.3 319.76,393.3 320.32,393.3 320.88,393.3 321.44,393.3 322.01,393.3 322.57,393.3 323.13,393.3 323.7,393.3 324.26,393.3 324.82,393.3 325.39,393.3 325.95,393.3 326.51,393.3 327.08,393.3 327.64,393.3 328.2,393.3 328.77,393.3 329.33,393.3 329.89,393.3 330.46,393.3 331.02,393.3 331.58,393.3 332.15,393.3 332.71,393.3 333.27,393.3 333.84,393.3 334.4,393.3 334.96,393.3 335.52,393.3 336.09,393.3 336.65,393.3 337.21,393.3 337.78,393.3 338.34,393.3 338.9,393.3 339.47,393.3 340.03,393.3 340.59,393.3 341.16,393.3 341.72,393.3 342.28,393.3 342.85,393.3 343.41,393.3 343.97,393.3 344.54,393.3 345.1,393.3 345.66,393.3 346.23,393.3 346.79,393.3 347.35,393.3 347.92,393.3 348.48,393.3 349.04,393.3 349.6,393.3 350.17,393.3 350.73,393.3 351.29,393.3 351.86,393.3 352.42,393.3 352.98,393.3 353.55,393.3 354.11,393.3 354.67,393.3 355.24,393.3 355.8,393.3 356.36,393.3 356.93,393.3 357.49,393.3 358.05,393.3 358.62,393.3 359.18,393.3 359.74,393.3 360.31,393.3 360.87,393.3 361.43,393.3 362,393.3 362.56,393.3 363.12,393.3 363.68,393.3 364.25,393.3 364.81,393.3 365.37,393.3 365.94,393.3 366.5,393.3 367.06,393.3 367.63,393.3 368.19,393.3 368.75,393.3 369.32,393.3 369.88,393.3 370.44,393.3 371.01,393.3 371.57,393.3 372.13,393.3 372.7,393.3 373.26,393.3 373.82,393.3 374.39,393.3 374.95,393.3 375.51,393.3 376.08,393.3 376.64,393.3 377.2,393.3 377.76,393.3 378.33,393.3 378.89,393.3" fill="none" stroke="#ff0000" stroke-width="0.6" stroke-linejoin="round" stroke-opacity="0.8"/>
<polyline points="215,429.2 215.56,429.2 216.13,429.2 216.69,429.2 217.25,429.2 217.82,429.2 218.38,429.2 218.94,429.2 219.51,429.2 220.07,429.2 220.63,429.2 221.2,429.2 221.76,429.2 222.32,429.2 222.88,429.2 223.45,429.2 224.01,429.2 224.57,429.2 225.14,429.2 225.7,429.2 226.26,429.2 226.83,429.2 227.39,429.2 227.95,429.2 228.52,429.2 229.08,429.2 229.64,429.2 230.21,429.2 230.77,429.2 231.33,429.2 231.9,429.2 232.46,429.2 233.02,429.2 233.59,429.2 234.15,429.2 234.71,429.2 235.28,429.2 235.84,429.2 236.4,429.2 236.96,429.2 237.53,429.2 238.09,429.2 238.65,429.2 239.22,429.2 239.78,429.2 240.34,429.2 240.91,429.2 241.47,429.2 242.03,429.2 242.6,429.2 243.16,429.2 243.72,429.2 244.29,429.2 244.85,429.2 245.41,429.2 245.98,429.2 246.54,429.2 247.1,429.2 247.67,429.2 248.23,429.2 248.79,429.2 249.36,429.2 249.92,429.2 250.48,429.2 251.04,429.2 251.61,429.2 252.17,429.2 252.73,429.2 253.3,429.2 253.86,429.2 254.42,429.2 254.99,429.2 255.55,429.2 256.11,429.2 256.68,429.2 257.24,429.2 257.8,429.2 258.37,429.2 258.93,429.2 259.49,429.2 260.06,429.2 260.62,429.2 261.18,429.2 261.75,429.2 262.31,429.2 262.87,429.2 263.44,429.2 264,429.2 264.56,429.2 265.12,429.2 265.69,429.2 266.25,429.2 266.81,429.2 267.38,429.2 267.94,429.2 268.5,429.2 269.07,429.2 269.63,429.2 270.19,429.2 270.76,429.2 271.32,429.2 271.88,429.2 272.45,429.2 273.01,429.2 273.57,429.2 274.14,429.2 274.7,429.2 275.26,429.2 275.83,429.2 276.39,429.2 276.95,429.2 277.52,429.2 278.08,429.2 278.64,429.2 279.2,429.2 279.77,429.2 280.33,429.2 280.89,429.2 281.46,429.2 282.02,429.2 282.58,429.2 283.15,429.2 283.71,429.2 284.27,429.2 284.84,429.2 285.4,429.2 285.96,429.2 286.53,429.2 287.09,429.2 287.65,429.2 288.22,429.2 288.78,429.2 289.34,429.2 289.91,429.2 290.47,429.2 291.03,429.2 291.6,429.2 292.16,429.2 292.72,429.2 293.28,429.2 293.85,429.2 294.41,429.2 294.97,429.2 295.54,429.2 296.1,429.2 296.66,429.2 297.23,429.2 297.79,429.2 298.35,429.2 298.92,429.2 299.48,429.2 300.04,429.2 300.61,429.2 301.17,429.2 301.73,429.2 302.3,429.2 303.15,428.34 303.78,428.97 304.41,427.08 305.04,428.97 305.67,419.52 306.3,427.08 306.93,423.3 307.56,428.97 308.19,425.82 308.82,428.97 309.45,426.45 310.08,424.56 310.71,408.19 311.34,404.41 311.96,398.11 312.59,393.08 313.22,401.89 313.85,395.59 314.48,398.11 315.11,393.08 315.74,400.63 316.37,395.59 317,401.89 317.63,403.15 318.26,422.04 318.89,399.37 319.52,395.59 320.15,401.89 320.78,396.85 321.41,406.93 322.04,395.59 322.67,404.41 323.3,394.34 323.93,398.11 324.56,393.08 325.19,395.59 325.82,398.11 326.45,393.08 327.08,396.85 327.71,391.82 328.34,393.08 328.97,394.34 329.6,392.45 330.23,394.96 330.86,393.08 331.49,396.85 332.12,395.59 332.75,393.08 333.38,391.82 334.01,394.34 334.63,390.56 335.26,395.59 335.89,391.82 336.52,389.93 337.15,394.34 337.78,396.85 338.41,392.45 339.04,390.56 339.67,394.96 340.3,391.82 340.93,389.3 341.56,396.85 342.19,393.08 342.82,391.19 343.45,395.59 344.08,393.08 344.71,390.56 345,395.59 345.63,391.82 346.26,396.85 346.89,390.56 347.52,394.34 348.15,389.3 348.78,395.59 349.41,393.08 350.04,390.56 350.67,394.34 351.3,388.67 351.93,393.08 352.56,396.85 353.19,391.82 353.82,389.3 354.45,395.59 355.08,390.56 355.71,394.34 356.34,396.85 356.96,389.3 357.59,393.08 358.22,398.11 358.85,390.56 359.48,389.3 360.11,395.59 360.74,391.82 361.37,396.85 362,390.56 362.63,393.08 363.26,388.04 363.89,395.59 364.52,386.78 365.15,396.85 365.78,389.3 366.41,394.34 367.04,388.04 367.67,398.11 368.3,390.56 368.93,395.59 369.56,389.3 370.19,399.37 370.82,390.56 371.45,394.34 372.08,389.3 372.71,396.85 373.34,390.56 373.97,399.37 374.6,391.82 375.23,395.59 375.86,390.56 376.49,394.34 377.12,389.93 377.75,393.71 378.38,389.3" fill="none" stroke="#0000ff" stroke-width="0.6" stroke-linejoin="round" stroke-opacity="0.8"/>
<polyline points="29.65,478.4 30.21,478.4 30.78,478.4 31.34,478.4 31.9,478.4 32.47,478.4 33.03,478.4 33.59,478.4 34.16,478.4 34.72,478.4 35.28,478.4 35.85,478.4 36.41,478.4 36.97,478.4 37.53,478.4 38.1,478.4 38.66,478.4 39.22,478.4 39.79,478.4 40.35,478.4 40.91,478.4 41.48,478.4 42.04,478.4 42.6,478.4 43.17,478.4 43.73,478.4 44.29,478.4 44.86,478.4 45.42,478.4 45.98,478.4 46.55,478.4 47.11,478.4 47.67,478.4 48.24,478.4 48.8,478.4 49.36,478.4 49.93,478.4 50.49,478.4 51.05,478.4 51.61,478.4 52.18,478.4 52.74,478.4 53.3,478.4 53.87,478.4 54.43,478.4 54.99,478.4 55.56,478.4 56.12,478.4 56.68,478.4 57.25,478.4 57.81,478.4 58.37,478.4 58.94,478.4 59.5,478.4 60.06,478.4 60.63,478.4 61.19,478.4 61.75,478.4 62.32,478.4 62.88,478.4 63.44,478.4 64.01,478.4 64.57,478.4 65.13,478.4 65.69,478.4 66.26,478.4 66.82,478.4 67.38,478.4 67.95,478.4 68.51,478.4 69.07,478.4 69.64,478.4 70.2,478.4 70.76,478.4 71.33,478.4 71.38,477.86 72.13,476.6 72.64,474.08 73.39,476.6 74.4,477.36 75.16,475.84 75.91,475.34 76.42,476.85 76.92,477.36 77.68,472.82 78.43,465.26 78.93,470.3 79.44,476.6 80.19,467.78 80.7,461.49 81.45,470.3 81.96,476.6 82.71,465.26 83.22,457.71 83.72,467.78 84.48,477.86 84.98,472.82 85.23,467.78 85.74,474.08 85.99,477.86 86.49,465.26 86.99,453.17 87.1,453.4 87.66,453.4 88.22,453.4 88.79,453.4 89.35,453.4 89.91,453.4 90.48,453.4 91.04,453.4 91.6,453.4 92.17,453.4 92.73,453.4 93.29,453.4 93.85,453.4 94.42,453.4 94.98,453.4 95.54,453.4 96.11,453.4 96.67,453.4 97.23,453.4 97.8,453.4 98.36,453.4 98.92,453.4 99.49,453.4 100.05,453.4 100.61,453.4 101.18,453.4 101.74,453.4 102.3,453.4 102.87,453.4 103.43,453.4 103.99,453.4 104.56,453.4 105.12,453.4 105.68,453.4 106.25,453.4 106.81,453.4 107.37,453.4 107.93,453.4 108.5,453.4 109.06,453.4 109.62,453.4 110.19,453.4 110.75,453.4 111.31,453.4 111.88,453.4 112.44,453.4 113,453.4 113.57,453.4 114.13,453.4 114.69,453.4 115.26,453.4 115.82,453.4 116.38,453.4 116.95,453.4 117.51,453.4 118.07,453.4 118.64,453.4 119.2,453.4 119.76,453.4 120.33,453.4 120.89,453.4 121.45,453.4 122.01,453.4 122.58,453.4 123.14,453.4 123.7,453.4 124.27,453.4 124.83,453.4 125.39,453.4 125.96,453.4 126.52,453.4 127.08,453.4 127.65,453.4 128.21,453.4 128.77,453.4 129.34,453.4 129.9,453.4 130.46,453.4 131.03,453.4 131.59,453.4 132.15,453.4 132.72,453.4 133.28,453.4 133.84,453.4 134.41,453.4 134.97,453.4 135.53,453.4 136.09,453.4 136.66,453.4 137.22,453.4 137.78,453.4 138.35,453.4 138.91,453.4 139.47,453.4 140.04,453.4 140.6,453.4 141.16,453.4 141.73,453.4 142.29,453.4 142.85,453.4 143.42,453.4 143.98,453.4 144.54,453.4 145.11,453.4 145.67,453.4 146.23,453.4 146.8,453.4 147.36,453.4 147.92,453.4 148.49,453.4 149.05,453.4 149.61,453.4 150.17,453.4 150.74,453.4 151.3,453.4 151.86,453.4 152.43,453.4 152.99,453.4 153.55,453.4 154.12,453.4 154.68,453.4 155.24,453.4 155.81,453.4 156.37,453.4 156.93,453.4 157.5,453.4 158.06,453.4 158.62,453.4 159.19,453.4 159.75,453.4 160.31,453.4 160.88,453.4 161.44,453.4 162,453.4 162.57,453.4 163.13,453.4 163.69,453.4 164.25,453.4 164.82,453.4 165.38,453.4 165.94,453.4" fill="none" stroke="#ff0000" stroke-width="0.6" stroke-linejoin="round" stroke-opacity="0.8"/>
<polyline points="29.65,478 30.21,478 30.78,478 31.34,478 31.9,478 32.47,478 33.03,478 33.59,478 34.16,478 34.72,478 35.28,478 35.85,478 36.41,478 36.97,478 37.53,478 38.1,478 38.66,478 39.22,478 39.79,478 40.35,478 40.91,478 41.48,478 42.04,478 42.6,478 43.17,478 43.73,478 44.29,478 44.86,478 45.42,478 45.98,478 46.55,478 47.11,478 47.67,478 48.24,478 48.8,478 49.36,478 49.93,478 50.49,478 51.05,478 51.61,478 52.18,478 52.74,478 53.3,478 53.87,478 54.43,478 54.99,478 55.56,478 56.12,478 56.68,478 57.25,478 57.81,478 58.37,478 58.94,478 59.5,478 60.06,478 60.63,478 61.19,478 61.75,478 62.32,478 62.88,478 63.44,478 64.01,478 64.57,478 65.13,478 65.69,478 66.26,478 66.82,478 67.38,478 67.95,478 68.51,478 69.07,478 69.64,478 70.2,478 70.76,478 71.33,478 71.89,478 72.45,478 73.02,478 73.58,478 74.14,478 74.71,478 75.27,478 75.83,478 76.4,478 76.96,478 77.52,478 78.09,478 78.65,478 79.21,478 79.77,478 80.34,478 80.9,478 81.46,478 82.03,478 82.59,478 83.15,478 83.72,478 84.28,478 84.84,478 85.41,478 85.97,478 86.53,478 87.1,478 87.66,478 88.22,478 88.79,478 89.35,478 89.91,478 90.48,478 91.04,478 91.6,478 92.17,478 92.73,478 93.29,478 93.85,478 94.42,478 94.98,478 95.54,478 96.11,478 96.67,478 97.23,478 97.8,478 98.36,478 98.92,478 99.49,478 100.05,478 100.61,478 101.18,478 101.74,478 102.3,478 102.87,478 103.43,478 103.99,478 104.56,478 105.12,478 105.68,478 106.25,478 106.81,478 107.37,478 107.93,478 108.5,478 109.06,478 109.62,478 110.19,478 110.75,478 111.31,478 111.88,478 112.44,478 113,478 113.57,478 114.13,478 114.69,478 115.26,478 115.82,478 116.38,478 116.95,478 117.51,478 118.07,478 118.64,478 119.2,478 119.76,478 120.33,478 120.89,478 121.45,478 122.01,478 122.58,478 123.14,478 123.7,478 124.27,478 124.83,478 125.39,478 125.96,478 126.52,478 127.08,478 127.65,478 128.21,478 128.77,478 129.34,478 129.9,478 130.71,476.71 131.34,477.97 131.96,473.56 132.59,468.52 133.22,467.89 133.85,468.52 134.48,474.82 135.11,477.97 135.74,469.78 136.37,476.08 137,478.6 137.63,469.78 138.26,472.3 138.89,464.75 139.52,444.59 140.15,459.71 140.78,476.08 141.41,460.97 142.04,454.67 142.67,466.01 143.3,462.23 143.93,458.45 144.56,468.52 145.19,459.71 145.82,462.23 146.45,472.3 147.08,476.08 147.71,462.23 148.34,453.41 148.97,463.49 149.6,449.63 150.23,469.78 150.86,445.85 151.49,459.71 152.12,473.56 152.75,463.49 153.38,447.11 154.01,467.26 154.63,452.15 155.26,459.71 155.89,447.11 156.52,469.78 157.15,454.67 157.78,445.85 158.41,458.45 159.04,444.59 159.67,450.89 160.3,462.23 160.93,448.37 161.56,445.85 162.19,457.19 162.82,447.11 163.45,450.89 164.08,444.59 164.71,469.78 165.34,454.67 165.97,445.85" fill="none" stroke="#0000ff" stroke-width="0.6" stroke-linejoin="round" stroke-opacity="0.8"/>
<polyline points="215,472.6 215.56,472.6 216.13,472.6 216.69,472.6 217.25,472.6 217.82,472.6 218.38,472.6 218.94,472.6 219.51,472.6 220.07,472.6 220.63,472.6 221.2,472.6 221.76,472.6 222.32,472.6 222.88,472.6 223.45,472.6 224.01,472.6 224.57,472.6 225.14,472.6 225.7,472.6 226.26,472.6 226.83,472.6 227.39,472.6 227.95,472.6 228.52,472.6 229.08,472.6 229.64,472.6 230.21,472.6 230.77,472.6 231.33,472.6 231.9,472.6 232.46,472.6 233.02,472.6 233.59,472.6 234.15,472.6 234.71,472.6 235.28,472.6 235.84,472.6 236.4,472.6 236.96,472.6 237.53,472.6 238.09,472.6 238.65,472.6 239.22,472.6 239.78,472.6 240.34,472.6 240.91,472.6 241.47,472.6 242.03,472.6 242.6,472.6 243.16,472.6 243.72,472.6 244.29,472.6 244.85,472.6 245.41,472.6 245.98,472.6 246.54,472.6 247.1,472.6 247.67,472.6 248.23,472.6 248.79,472.6 249.36,472.6 249.92,472.6 250.48,472.6 251.04,472.6 251.61,472.6 252.17,472.6 252.73,472.6 253.3,472.6 253.86,472.6 254.42,472.6 254.99,472.6 255.55,472.6 256.11,472.6 256.68,472.6 257.24,472.6 257.8,472.6 258.37,472.6 258.93,472.6 259.49,472.6 260.06,472.6 260.62,472.6 261.93,471.67 262.81,471.04 263.56,470.41 264.45,469.15 265.08,467.26 265.71,465.38 266.08,462.23 266.59,466.01 266.96,460.97 267.59,464.75 268.22,450.26 268.6,460.97 269.11,457.19 269.48,462.23 269.86,457.19 270.11,452.78 270.49,462.23 270.99,449.63 271.37,470.41 272,454.67 272.63,469.78 273.26,463.49 273.89,451.52 274.52,469.78 275.15,459.71 275.78,451.52 276.41,468.52 277.04,458.45 277.67,453.41 278.3,468.52 278.93,451.52 279.56,469.78 280.19,460.97 280.82,453.41 281.45,469.15 282.08,450.26 282.71,463.49 283.34,448.37 283.97,467.89 284.6,449.63 285.23,466.01 285.86,457.19 286.49,450.89 287.12,468.52 287.75,450.89 288.38,467.26 289.01,454.67 289.63,448.37 290.26,468.52 290.89,450.89 291.52,466.01 292.15,453.41 292.78,447.11 293.41,467.89 294.04,452.15 294.67,468.52 295.3,449 295.93,467.26 296.56,453.41 297.19,448.37 297.82,466.01 298.45,449.63 299.08,467.89 299.71,450.89 300.34,448.37 300.97,466.63 301.6,451.52 302.23,449.63 302.86,468.52 303.49,448.37 304.12,466.01 305,449.63 305.04,468.52 305.67,449.63 306.3,447.11 306.93,457.19 307.56,467.26 308.19,448.37 308.82,455.93 309.45,445.85 310.08,463.49 310.71,444.59 311.34,453.41 311.96,445.22 312.59,449.63 313.22,469.78 313.85,445.85 314.48,450.89 315.11,443.96 315.74,458.45 316.37,445.85 317,449.63 317.63,444.59 318.26,452.15 318.89,447.11 319.52,443.96 320.15,451.52 320.78,444.59 321.41,448.37 322.04,445.85 322.67,443.34 323.3,453.41 323.93,472.3 324.56,443.34 325.19,441.45 325.82,438.93 326.45,443.34 327.08,440.82 327.71,444.59 328.34,439.56 328.97,448.37 329.6,462.86 330.23,445.85 330.86,442.08 331.49,448.37 332.12,441.45 332.75,445.85 333.38,440.19 334.01,444.59 334.63,442.08 335.26,445.85 335.89,440.82 336.52,444.59 337.15,439.56 337.78,445.85 338.41,442.08 339.04,447.11 339.67,440.19 340.3,444.59 340.93,438.3 341.56,443.34 342.19,437.04 342.82,445.85 343.45,439.56 344.08,447.11 344.71,439.56 345.34,443.34 345.97,437.67 346.6,445.85 347.23,440.82 347.86,443.96 348.49,437.04 349.12,445.85 350,439.56 350.04,444.59 350.67,438.3 351.3,459.08 351.93,442.08 352.56,444.59 353.19,439.56 353.82,437.67 354.45,443.34 355.08,449 355.71,440.82 356.34,444.59 356.96,438.3 357.59,444.59 358.22,440.19 358.85,437.04 359.48,442.71 360.11,439.56 360.74,437.67 361.37,444.59 362,439.56 362.63,437.67 363.26,442.08 363.89,445.85 364.52,437.04 365.15,469.15 365.78,440.82 366.41,444.59 367.04,436.41 367.67,439.56 368.3,443.34 368.93,435.78 369.56,442.08 370.19,437.04 370.82,440.82 371.45,443.34 372.08,435.78 372.71,442.08 373.34,438.93 373.97,436.41 374.6,443.34 375.23,437.67 375.86,435.78 376.49,441.45 377.12,437.67 377.75,444.59 378.38,437.67 379.01,437.04 380.26,437.04 381.52,437.04 382.78,437.04 383.41,437.29" fill="none" stroke="#ff0000" stroke-width="0.6" stroke-linejoin="round" stroke-opacity="0.8"/>
<polyline points="215,472.6 215.56,472.6 216.13,472.6 216.69,472.6 217.25,472.6 217.82,472.6 218.38,472.6 218.94,472.6 219.51,472.6 220.07,472.6 220.63,472.6 221.2,472.6 221.76,472.6 222.32,472.6 222.88,472.6 223.45,472.6 224.01,472.6 224.57,472.6 225.14,472.6 225.7,472.6 226.26,472.6 226.83,472.6 227.39,472.6 227.95,472.6 228.52,472.6 229.08,472.6 229.64,472.6 230.21,472.6 230.77,472.6 231.33,472.6 231.9,472.6 232.46,472.6 233.02,472.6 233.59,472.6 234.15,472.6 234.71,472.6 235.28,472.6 235.84,472.6 236.4,472.6 236.96,472.6 237.53,472.6 238.09,472.6 238.65,472.6 239.22,472.6 239.78,472.6 240.34,472.6 240.91,472.6 241.47,472.6 242.03,472.6 242.6,472.6 243.16,472.6 243.72,472.6 244.29,472.6 244.85,472.6 245.41,472.6 245.98,472.6 246.54,472.6 247.1,472.6 247.67,472.6 248.23,472.6 248.79,472.6 249.36,472.6 249.92,472.6 250.48,472.6 251.04,472.6 251.61,472.6 252.17,472.6 252.73,472.6 253.3,472.6 253.86,472.6 254.42,472.6 254.99,472.6 255.55,472.6 256.11,472.6 256.68,472.6 257.24,472.6 257.8,472.6 258.37,472.6 258.93,472.6 259.49,472.6 260.06,472.6 260.62,472.6 261.18,472.6 261.75,472.6 262.31,472.6 262.87,472.6 263.44,472.6 264,472.6 264.56,472.6 265.12,472.6 265.69,472.6 266.25,472.6 266.81,472.6 267.38,472.6 267.94,472.6 268.5,472.6 269.07,472.6 269.63,472.6 270.19,472.6 270.76,472.6 271.32,472.6 271.88,472.6 272.45,472.6 273.01,472.6 273.57,472.6 274.14,472.6 274.7,472.6 275.26,472.6 275.83,472.6 276.39,472.6 276.95,472.6 277.52,472.6 278.08,472.6 278.64,472.6 279.2,472.6 279.77,472.6 280.33,472.6 280.89,472.6 281.46,472.6 282.02,472.6 282.58,472.6 283.15,472.6 283.71,472.6 284.27,472.6 284.84,472.6 285.4,472.6 285.96,472.6 286.53,472.6 287.09,472.6 287.65,472.6 288.22,472.6 288.78,472.6 289.34,472.6 289.91,472.6 290.47,472.6 291.03,472.6 291.6,472.6 292.16,472.6 292.72,472.6 293.28,472.6 293.85,472.6 294.41,472.6 294.97,472.6 295.54,472.6 296.1,472.6 296.66,472.6 297.23,472.6 297.79,472.6 298.35,472.6 298.92,472.6 299.48,472.6 300.04,472.6 300.61,472.6 301.17,472.6 301.73,472.6 302.3,472.6 302.86,472.6 303.42,472.6 303.99,472.6 304.55,472.6 305.11,472.6 305.68,472.6 306.24,472.6 306.8,472.6 307.36,472.6 307.93,472.6 308.49,472.6 309.05,472.6 309.62,472.6 310.18,472.6 310.74,472.6 311.31,472.6 311.87,472.6 312.43,472.6 313,472.6 313.56,472.6 314.12,472.6 314.69,472.6 315.25,472.6 315.81,472.6 316.38,472.6 316.94,472.6 317.5,472.6 318.07,472.6 318.63,472.6 319.19,472.6 319.76,472.6 320.32,472.6 320.88,472.6 321.44,472.6 322.01,472.6 322.57,472.6 323.13,472.6 323.7,472.6 324.26,472.6 324.82,472.6 325.39,472.6 325.95,472.6 326.51,472.6 327.08,472.6 327.64,472.6 328.2,472.6 328.77,472.6 329.33,472.6 329.89,472.6 330.46,472.6 331.02,472.6 331.58,472.6 332.15,472.6 332.71,472.6 333.27,472.6 333.84,472.6 334.4,472.6 334.96,472.6 335.52,472.6 336.09,472.6 336.65,472.6 337.21,472.6 337.78,472.6 338.34,472.6 338.9,472.6 339.47,472.6 340.03,472.6 340.59,472.6 341.16,472.6 341.72,472.6 342.19,471.04 342.82,472.3 343.45,470.41 344.08,472.55 344.71,472.05 345.34,472.3 345.97,471.04 346.6,472.3 347.23,469.78 347.86,472.05 348.49,467.26 349.12,469.78 349.41,471.04 350.04,467.26 350.67,464.75 351.3,468.52 351.93,466.01 352.56,471.04 353.19,469.15 353.82,469.78 354.45,467.89 355.08,469.78 355.71,466.01 356.34,467.26 356.96,463.49 357.59,462.23 358.22,465.38 358.85,457.19 359.48,456.56 360.11,466.01 360.74,461.6 361.37,463.49 362,443.34 362.63,438.3 363.26,460.97 363.89,459.71 364.52,447.11 365.15,459.71 365.78,448.37 366.41,457.19 367.04,454.67 367.67,453.41 368.3,457.19 368.93,455.93 369.56,460.97 370.19,457.19 370.82,452.15 371.45,459.08 372.08,466.01 372.71,454.67 373.34,443.34 373.97,438.3 374.6,447.11 375.23,439.56 375.86,449.63 376.49,459.08 377.12,445.85 377.75,448.37 378.38,444.59 379.01,447.11 379.63,449.63 380.26,450.89 380.89,444.59 381.52,441.45 382.15,460.97 382.78,447.11 383.41,448.37" fill="none" stroke="#0000ff" stroke-width="0.6" stroke-linejoin="round" stroke-opacity="0.8"/>
<polyline points="29.65,520.3 30.21,520.3 30.78,520.3 31.34,520.3 31.9,520.3 32.47,520.3 33.03,520.3 33.59,520.3 34.16,520.3 34.72,520.3 35.28,520.3 35.85,520.3 36.41,520.3 36.97,520.3 37.53,520.3 38.1,520.3 38.66,520.3 39.22,520.3 39.79,520.3 40.35,520.3 40.91,520.3 41.48,520.3 42.04,520.3 42.6,520.3 43.17,520.3 43.73,520.3 44.29,520.3 44.86,520.3 45.42,520.3 45.98,520.3 46.55,520.3 47.11,520.3 47.67,520.3 48.24,520.3 48.8,520.3 49.36,520.3 49.93,520.3 50.49,520.3 51.05,520.3 51.61,520.3 52.18,520.3 52.74,520.3 53.3,520.3 53.87,520.3 54.43,520.3 54.99,520.3 55.56,520.3 56.12,520.3 56.68,520.3 57.25,520.3 57.81,520.3 58.37,520.3 58.94,520.3 59.5,520.3 60.06,520.3 60.63,520.3 61.19,520.3 61.75,520.3 62.32,520.3 62.88,520.3 63.15,520.04 63.78,518.78 64.41,517.52 65.04,511.23 65.67,509.97 66.3,518.78 66.93,515.01 67.56,511.23 68.19,517.52 68.82,512.49 69.45,518.78 70.08,516.26 70.71,509.97 71.34,506.19 71.96,512.49 72.59,501.15 73.22,508.71 73.85,503.67 74.48,518.78 75.11,511.23 75.74,493.59 76.37,509.97 77,499.89 77.63,494.85 78.26,506.19 78.89,499.89 79.52,508.71 80.15,511.23 80.78,502.41 81.41,516.26 82.04,506.19 82.67,498.63 83.3,507.45 83.93,494.85 84.56,502.41 85.19,493.59 85.82,498.63 86.45,506.19 87.08,497.37 87.71,503.67 88.34,507.45 88.97,496.11 89.6,491.08 90.23,499.89 90.86,491.08 91.49,496.11 92.12,491.08 92.75,493.59 93.38,501.15 94.01,496.11 94.63,511.23 95.26,497.37 95.89,502.41 96.52,496.11 97.15,499.89 97.78,504.93 98.41,501.15 99.04,493.59 99.67,498.63 100.3,491.08 100.93,496.11 101.56,493.59 102.19,488.56 102.82,492.34 103.45,497.37 104.08,493.59 104.71,501.15 105,497.37 105.63,506.19 106.26,511.23 106.89,499.89 107.52,493.59 108.15,489.82 108.78,496.11 109.41,488.56 110.04,493.59 110.67,487.3 111.3,496.11 111.93,491.08 112.56,486.04 113.19,497.37 113.82,492.34 114.45,507.45 115.08,493.59 115.71,488.56 116.34,492.34 116.96,502.41 117.59,489.82 118.22,494.85 118.85,486.04 119.48,491.08 120.11,493.59 120.74,488.56 121.37,492.34 122,487.3 122.63,496.11 123.26,491.08 123.89,506.19 124.52,488.56 125.15,503.67 125.78,492.34 126.41,506.19 127.04,486.04 127.67,493.59 128.3,488.56 128.93,498.63 129.56,487.3 130.19,493.59 130.82,501.15 131.45,488.56 132.08,493.59 132.71,486.04 133.34,492.34 133.97,501.15 134.6,488.56 135.23,493.59 135.86,497.37 136.49,489.82 137.12,501.15 137.75,491.08 138.38,494.85 139.01,484.78 139.63,493.59 140.26,487.3 140.89,497.37 141.52,486.04 142.15,489.82 142.78,496.11 143.41,488.56 144.04,493.59 144.67,487.3 145.3,492.34 145.93,498.63 146.56,488.56 147.19,492.34 147.82,487.3 148.45,496.11 149.08,486.04 149.71,493.59 150,488.56 150.63,493.59 151.26,516.26 151.89,491.08 152.52,486.04 153.15,483.52 153.78,488.56 154.41,484.78 155.04,487.3 155.67,491.08 156.3,486.04 156.93,489.82 157.56,484.78 158.19,487.3 158.82,492.34 159.45,486.04 160.08,488.56 160.71,484.78 161.34,489.82 161.96,486.04 162.59,484.78 163.22,491.08 163.85,493.59 164.48,497.37 165.11,487.3 165.74,491.08 166.37,494.85 167,486.04 167.63,493.59 168.26,484.78 168.89,488.56 169.52,491.08 170.15,486.04 170.78,489.82 171.41,483.52 172.04,486.04 172.67,487.3 173.3,484.15 173.93,488.56 174.56,486.04 175.19,491.08 175.82,493.59 176.45,488.56 177.08,496.11 177.71,504.93 178.34,487.3 178.97,484.15 179.46,484.1 180.02,484.1 180.59,484.1 181.15,484.1 181.71,484.1 182.28,484.1 182.84,484.1 183.4,484.1 183.97,484.1 184.53,484.1 185.09,484.1 185.66,484.1 186.22,484.1 186.78,484.1 187.35,484.1 187.91,484.1 188.47,484.1 189.04,484.1 189.6,484.1 190.16,484.1 190.73,484.1 191.29,484.1 191.85,484.1 192.41,484.1 192.98,484.1 193.54,484.1 194.1,484.1 194.67,484.1 195.23,484.1 195.79,484.1 196.36,484.1 196.92,484.1 197.48,484.1 198.05,484.1" fill="none" stroke="#ff0000" stroke-width="0.6" stroke-linejoin="round" stroke-opacity="0.8"/>
<polyline points="29.65,520.3 30.21,520.3 30.78,520.3 31.34,520.3 31.9,520.3 32.47,520.3 33.03,520.3 33.59,520.3 34.16,520.3 34.72,520.3 35.28,520.3 35.85,520.3 36.41,520.3 36.97,520.3 37.53,520.3 38.1,520.3 38.66,520.3 39.22,520.3 39.79,520.3 40.35,520.3 40.91,520.3 41.48,520.3 42.04,520.3 42.6,520.3 43.17,520.3 43.73,520.3 44.29,520.3 44.86,520.3 45.42,520.3 45.98,520.3 46.55,520.3 47.11,520.3 47.67,520.3 48.24,520.3 48.8,520.3 49.36,520.3 49.93,520.3 50.49,520.3 51.05,520.3 51.61,520.3 52.18,520.3 52.74,520.3 53.3,520.3 53.87,520.3 54.43,520.3 54.99,520.3 55.56,520.3 56.12,520.3 56.68,520.3 57.25,520.3 57.81,520.3 58.37,520.3 58.94,520.3 59.5,520.3 60.06,520.3 60.63,520.3 61.19,520.3 61.75,520.3 62.32,520.3 62.88,520.3 63.44,520.3 64.01,520.3 64.57,520.3 65.13,520.3 65.69,520.3 66.26,520.3 66.82,520.3 67.38,520.3 67.95,520.3 68.51,520.3 69.07,520.3 69.64,520.3 70.2,520.3 70.76,520.3 71.33,520.3 71.89,520.3 72.45,520.3 73.02,520.3 73.58,520.3 74.14,520.3 74.71,520.3 75.27,520.3 75.83,520.3 76.4,520.3 76.96,520.3 77.52,520.3 78.09,520.3 78.65,520.3 79.21,520.3 79.77,520.3 80.34,520.3 80.9,520.3 81.46,520.3 82.03,520.3 82.59,520.3 83.15,520.3 83.72,520.3 84.28,520.3 84.84,520.3 85.41,520.3 85.97,520.3 86.53,520.3 87.1,520.3 87.66,520.3 88.22,520.3 88.79,520.3 89.35,520.3 89.91,520.3 90.48,520.3 91.04,520.3 91.6,520.3 92.17,520.3 92.73,520.3 93.29,520.3 93.85,520.3 94.42,520.3 94.98,520.3 95.54,520.3 96.11,520.3 96.67,520.3 97.23,520.3 97.8,520.3 98.36,520.3 98.92,520.3 99.49,520.3 100.05,520.3 100.61,520.3 101.18,520.3 101.74,520.3 102.3,520.3 102.87,520.3 103.43,520.3 103.99,520.3 104.56,520.3 105.12,520.3 105.68,520.3 106.25,520.3 106.81,520.3 107.37,520.3 107.93,520.3 108.5,520.3 109.06,520.3 109.62,520.3 110.19,520.3 110.75,520.3 111.31,520.3 111.88,520.3 112.44,520.3 113,520.3 113.57,520.3 114.13,520.3 114.69,520.3 115.26,520.3 115.82,520.3 116.38,520.3 116.95,520.3 117.51,520.3 118.07,520.3 118.64,520.3 119.2,520.3 119.76,520.3 120.33,520.3 120.89,520.3 121.37,518.15 122,520.29 122.63,519.41 123.26,518.78 123.89,520.29 124.52,517.52 125.15,515.63 125.78,516.89 126.41,515.01 127.04,517.52 127.67,515.63 128.3,516.89 128.93,513.75 129.56,514.38 130.19,510.6 130.82,516.26 131.45,509.97 132.08,512.49 132.71,505.56 133.34,502.41 133.97,507.45 134.6,503.04 135.23,506.19 135.86,508.71 136.49,503.67 137.12,506.19 137.75,503.67 138.38,507.45 139.01,504.3 139.63,511.23 140.26,499.89 140.89,511.86 141.52,494.85 142.15,498.63 142.78,492.34 143.41,502.41 144.04,494.85 144.67,499.89 145.3,493.59 145.93,501.15 146.56,491.08 147.19,507.45 147.82,493.59 148.45,506.19 149.08,498.63 149.71,492.34 150,492.34 150.63,499.89 151.26,506.19 151.89,493.59 152.52,498.63 153.15,494.85 153.78,492.34 154.41,503.67 155.04,496.11 155.67,491.08 156.3,493.59 156.93,489.82 157.56,492.34 158.19,491.08 158.82,494.85 159.45,503.67 160.08,488.56 160.71,493.59 161.34,491.08 161.96,487.93 162.59,489.82 163.22,486.04 163.85,492.34 164.48,488.56 165.11,494.85 165.74,491.08 166.37,499.89 167,488.56 167.63,497.37 168.26,486.04 168.89,491.08 169.52,488.56 170.15,493.59 170.78,489.82 171.41,488.56 172.04,486.04 172.67,489.82 173.3,484.78 173.93,487.3 174.56,489.82 175.19,486.04 175.82,492.34 176.45,487.3 177.08,491.08 177.71,493.59 178.34,491.08 178.97,493.59 179.6,489.82 180.23,491.08 180.86,488.56 181.49,492.34 182.12,489.82 182.75,494.85 183.38,497.37 184.01,488.56 184.63,486.04 185.26,484.78 185.89,488.56 186.52,484.78 187.15,487.3 187.78,486.04 188.41,489.82 189.04,484.78 189.67,488.56 190.3,486.04 190.93,491.08 191.56,484.78 192.19,489.82 192.82,486.04 193.45,489.82 194.08,484.78 194.71,492.34 195.34,486.04 195.97,491.08 196.6,487.3 197.23,491.71 197.86,486.04 198.49,488.56" fill="none" stroke="#0000ff" stroke-width="0.6" stroke-linejoin="round" stroke-opacity="0.8"/>
<polyline points="215,526 215.56,526 216.13,526 216.69,526 217.25,526 217.82,526 218.38,526 218.94,526 219.51,526 220.07,526 220.63,526 221.2,526 221.76,526 222.32,526 222.88,526 223.45,526 224.01,526 224.57,526 225.14,526 225.7,526 226.26,526 226.83,526 227.39,526 227.95,526 228.52,526 229.08,526 229.64,526 230.21,526 230.77,526 231.33,526 231.9,526 232.46,526 233.02,526 233.59,526 234.15,526 234.71,526 235.28,526 235.84,526 236.4,526 236.96,526 237.53,526 238.09,526 238.65,526 239.22,526 239.78,526 240.34,526 240.91,526 241.47,526 242.03,526 242.6,526 243.16,526 243.72,526 244.29,526 244.85,526 245.41,526 245.98,526 246.54,526 247.1,526 247.67,526 248.23,526 248.79,526 249.36,526 249.92,526 250.48,526 251.04,526 251.61,526 252.17,526 252.73,526 253.3,526 253.86,526 254.42,526 255.67,525.08 256.93,524.45 257.56,518.78 258.19,517.52 258.82,521.3 259.45,511.86 260.08,518.78 260.71,522.56 261.34,520.04 261.96,523.82 262.59,517.52 263.22,508.71 263.85,521.3 264.48,517.52 265.11,523.82 265.74,515.01 266.37,518.78 267,507.45 267.63,516.26 268.26,518.78 268.89,521.3 269.52,517.52 270.15,523.82 270.78,518.78 271.41,515.63 272.04,518.78 272.67,517.52 273.3,521.3 273.93,513.75 274.56,503.04 275.19,504.93 275.82,518.78 276.45,511.23 277.08,522.56 277.71,518.78 278.34,506.19 278.97,509.97 279.6,521.3 280.23,512.49 280.86,508.71 281.49,501.78 282.12,503.04 282.75,504.93 283.38,512.49 284.01,523.82 284.63,517.52 285.26,521.3 285.89,512.49 286.52,518.78 287.15,501.78 287.78,506.19 288.41,516.26 289.04,525.71 289.67,504.93 290.3,509.97 290.93,513.75 291.56,518.78 292.19,525.08 292.82,518.78 293.45,521.3 294.08,513.75 294.71,509.97 295,506.19 295.63,521.3 296.26,504.93 296.89,517.52 297.52,503.67 298.15,522.56 298.78,504.93 299.41,525.71 300.04,508.71 300.67,518.78 301.3,506.19 301.93,512.49 302.56,503.67 303.19,509.97 303.82,504.93 304.45,516.26 305.08,509.97 305.71,518.78 306.34,525.08 306.96,511.23 307.59,507.45 308.22,506.19 308.85,513.75 309.48,509.97 310.11,504.93 310.74,507.45 311.37,504.93 312,501.15 312.63,509.97 313.26,515.01 313.89,507.45 314.52,515.63 315.15,508.71 315.78,512.49 316.41,505.56 317.04,511.23 317.67,504.93 318.3,523.82 318.93,498.63 319.56,506.19 320.19,513.75 320.82,503.67 321.45,511.23 322.08,506.19 322.71,518.78 323.34,501.78 323.97,509.97 324.6,525.08 325.23,501.15 325.86,504.93 326.49,508.71 327.12,503.67 327.75,512.49 328.38,507.45 329.01,501.15 329.63,509.97 330.26,503.67 330.89,512.49 331.52,504.93 332.15,508.71 332.78,502.41 333.41,511.23 334.04,505.56 334.67,508.71 335.3,502.41 335.93,507.45 336.56,504.3 337.19,501.15 337.82,506.19 338.45,499.89 339.08,504.93 339.71,503.04 340.63,506.19 341.26,501.15 341.89,509.97 342.52,502.41 343.15,508.71 343.78,501.15 344.41,511.23 345.04,506.19 345.67,525.08 346.3,503.67 346.93,506.19 347.56,498.63 348.19,504.93 348.82,497.37 349.45,502.41 350.08,498.63 350.71,504.3 351.34,497.37 351.96,501.15 352.59,496.74 353.22,504.3 353.85,499.26 354.48,499.26 354.67,499.3 355.24,499.3 355.8,499.3 356.36,499.3 356.93,499.3 357.49,499.3 358.05,499.3 358.62,499.3 359.18,499.3 359.74,499.3 360.31,499.3 360.87,499.3 361.43,499.3 362,499.3 362.56,499.3 363.12,499.3 363.68,499.3 364.25,499.3 364.81,499.3 365.37,499.3 365.94,499.3 366.5,499.3 367.06,499.3 367.63,499.3 368.19,499.3 368.75,499.3 369.32,499.3 369.88,499.3 370.44,499.3 371.01,499.3 371.57,499.3 372.13,499.3 372.7,499.3 373.26,499.3 373.82,499.3 374.39,499.3 374.95,499.3 375.51,499.3 376.08,499.3 376.64,499.3 377.2,499.3 377.76,499.3 378.33,499.3 378.89,499.3 379.45,499.3 380.02,499.3 380.58,499.3 381.14,499.3 381.71,499.3 382.27,499.3 382.83,499.3 383.4,499.3" fill="none" stroke="#ff0000" stroke-width="0.6" stroke-linejoin="round" stroke-opacity="0.8"/>
<polyline points="215,525.8 215.56,525.8 216.13,525.8 216.69,525.8 217.25,525.8 217.82,525.8 218.38,525.8 218.94,525.8 219.51,525.8 220.07,525.8 220.63,525.8 221.2,525.8 221.76,525.8 222.32,525.8 222.88,525.8 223.45,525.8 224.01,525.8 224.57,525.8 225.14,525.8 225.7,525.8 226.26,525.8 226.83,525.8 227.39,525.8 227.95,525.8 228.52,525.8 229.08,525.8 229.64,525.8 230.21,525.8 230.77,525.8 231.33,525.8 231.9,525.8 232.46,525.8 233.02,525.8 233.59,525.8 234.15,525.8 234.71,525.8 235.28,525.8 235.84,525.8 236.4,525.8 236.96,525.8 237.53,525.8 238.09,525.8 238.65,525.8 239.22,525.8 239.78,525.8 240.34,525.8 240.91,525.8 241.47,525.8 242.03,525.8 242.6,525.8 243.16,525.8 243.72,525.8 244.29,525.8 244.85,525.8 245.41,525.8 245.98,525.8 246.54,525.8 247.1,525.8 247.67,525.8 248.23,525.8 248.79,525.8 249.36,525.8 249.92,525.8 250.48,525.8 251.04,525.8 251.61,525.8 252.17,525.8 252.73,525.8 253.3,525.8 253.86,525.8 254.42,525.8 254.99,525.8 255.55,525.8 256.11,525.8 256.68,525.8 257.24,525.8 257.8,525.8 258.37,525.8 258.93,525.8 259.49,525.8 260.06,525.8 260.62,525.8 261.18,525.8 261.75,525.8 262.31,525.8 262.87,525.8 263.44,525.8 264,525.8 264.56,525.8 265.12,525.8 265.69,525.8 266.25,525.8 266.81,525.8 267.38,525.8 267.94,525.8 268.5,525.8 269.07,525.8 269.63,525.8 270.19,525.8 270.76,525.8 271.32,525.8 271.88,525.8 272.45,525.8 273.01,525.8 273.57,525.8 274.14,525.8 274.7,525.8 275.26,525.8 275.83,525.8 276.39,525.8 276.95,525.8 277.52,525.8 278.08,525.8 278.64,525.8 279.2,525.8 279.77,525.8 280.33,525.8 280.89,525.8 281.46,525.8 282.02,525.8 282.58,525.8 283.15,525.8 283.71,525.8 284.27,525.8 284.84,525.8 285.4,525.8 285.96,525.8 286.53,525.8 287.09,525.8 287.65,525.8 288.22,525.8 288.78,525.8 289.34,525.8 289.91,525.8 290.47,525.8 291.03,525.8 291.6,525.8 292.16,525.8 292.72,525.8 293.28,525.8 293.85,525.8 294.41,525.8 294.97,525.8 295.54,525.8 296.1,525.8 296.66,525.8 297.23,525.8 297.79,525.8 298.35,525.8 298.92,525.8 299.48,525.8 300.04,525.8 300.61,525.8 301.17,525.8 301.73,525.8 302.3,525.8 302.86,525.8 303.42,525.8 303.99,525.8 304.55,525.8 305.11,525.8 305.68,525.8 306.24,525.8 306.8,525.8 307.36,525.8 307.93,525.8 308.49,525.8 309.05,525.8 309.62,525.8 310.18,525.8 310.74,525.8 311.31,525.8 311.87,525.8 312.43,525.8 313,525.8 313.56,525.8 314.12,525.8 314.69,525.8 315.25,525.8 315.81,525.8 316.38,525.8 316.94,525.8 317.5,525.8 318.07,525.8 318.63,525.8 319.19,525.8 319.76,525.8 320.32,525.8 320.88,525.8 321.44,525.8 322.01,525.8 322.57,525.8 323.13,525.8 323.7,525.8 324.26,525.8 324.82,525.8 325.39,525.8 325.95,525.8 326.51,525.8 327.08,525.8 327.64,525.8 328.2,525.8 328.77,525.8 329.33,525.8 329.89,525.8 330.46,525.8 331.02,525.8 331.58,525.8 332.15,525.8 332.71,525.8 333.27,525.8 333.84,525.8 334.4,525.8 334.96,525.8 335.52,525.8 336.09,525.8 336.65,525.8 337.21,525.8 337.78,525.8 338.34,525.8 338.9,525.8 339.47,525.8 340.03,525.8 340.59,525.8 341.16,525.8 341.72,525.8 342.28,525.8 342.85,525.8 343.41,525.8 343.97,525.8 344.54,525.8 345.1,525.8 345.66,525.8 346.23,525.8 346.79,525.8 347.56,524.45 348.19,525.08 348.82,523.82 349.45,525.71 350.08,524.45 350.71,525.08 351.34,524.45 351.96,525.08 352.59,523.82 353.22,524.45 353.85,522.56 354.48,524.45 355.11,521.93 355.74,525.71 356.37,521.3 357,523.82 357.63,522.56 358.26,521.3 358.89,522.56 359.52,520.67 360.15,523.82 360.78,520.04 361.41,521.3 362.04,523.82 362.67,517.52 363.3,520.04 363.93,518.78 364.56,516.26 365.19,517.52 365.82,515.01 366.45,521.3 367.08,515.01 367.71,503.04 368.34,515.01 368.97,507.45 369.6,520.04 370.23,511.23 370.86,516.26 371.49,509.97 372.12,518.78 372.75,515.01 373.38,506.19 374.01,511.23 374.63,507.45 375.26,502.41 375.89,498.63 376.52,499.89 377.15,503.67 377.78,511.23 378.41,506.19 379.04,499.26 379.67,503.67 380.3,513.75 380.93,506.19 381.56,499.89 382.19,516.26 382.82,504.93 383.45,499.26" fill="none" stroke="#0000ff" stroke-width="0.6" stroke-linejoin="round" stroke-opacity="0.8"/>
<line x1="29.65" y1="334.6" x2="29.65" y2="336" stroke="#333" stroke-width="0.6"/>
<line x1="57.81" y1="334.6" x2="57.81" y2="336" stroke="#333" stroke-width="0.6"/>
<line x1="85.97" y1="334.6" x2="85.97" y2="336" stroke="#333" stroke-width="0.6"/>
<line x1="114.13" y1="334.6" x2="114.13" y2="336" stroke="#333" stroke-width="0.6"/>
<line x1="142.29" y1="334.6" x2="142.29" y2="336" stroke="#333" stroke-width="0.6"/>
<line x1="170.45" y1="334.6" x2="170.45" y2="336" stroke="#333" stroke-width="0.6"/>
<line x1="198.61" y1="334.6" x2="198.61" y2="336" stroke="#333" stroke-width="0.6"/>
<line x1="215" y1="334.6" x2="215" y2="336" stroke="#333" stroke-width="0.6"/>
<line x1="243.16" y1="334.6" x2="243.16" y2="336" stroke="#333" stroke-width="0.6"/>
<line x1="271.32" y1="334.6" x2="271.32" y2="336" stroke="#333" stroke-width="0.6"/>
<line x1="299.48" y1="334.6" x2="299.48" y2="336" stroke="#333" stroke-width="0.6"/>
<line x1="327.64" y1="334.6" x2="327.64" y2="336" stroke="#333" stroke-width="0.6"/>
<line x1="355.8" y1="334.6" x2="355.8" y2="336" stroke="#333" stroke-width="0.6"/>
<line x1="383.96" y1="334.6" x2="383.96" y2="336" stroke="#333" stroke-width="0.6"/>
<line x1="29.65" y1="383.3" x2="29.65" y2="384.7" stroke="#333" stroke-width="0.6"/>
<line x1="57.81" y1="383.3" x2="57.81" y2="384.7" stroke="#333" stroke-width="0.6"/>
<line x1="85.97" y1="383.3" x2="85.97" y2="384.7" stroke="#333" stroke-width="0.6"/>
<line x1="114.13" y1="383.3" x2="114.13" y2="384.7" stroke="#333" stroke-width="0.6"/>
<line x1="142.29" y1="383.3" x2="142.29" y2="384.7" stroke="#333" stroke-width="0.6"/>
<line x1="170.45" y1="383.3" x2="170.45" y2="384.7" stroke="#333" stroke-width="0.6"/>
<line x1="198.61" y1="383.3" x2="198.61" y2="384.7" stroke="#333" stroke-width="0.6"/>
<line x1="215" y1="383.3" x2="215" y2="384.7" stroke="#333" stroke-width="0.6"/>
<line x1="243.16" y1="383.3" x2="243.16" y2="384.7" stroke="#333" stroke-width="0.6"/>
<line x1="271.32" y1="383.3" x2="271.32" y2="384.7" stroke="#333" stroke-width="0.6"/>
<line x1="299.48" y1="383.3" x2="299.48" y2="384.7" stroke="#333" stroke-width="0.6"/>
<line x1="327.64" y1="383.3" x2="327.64" y2="384.7" stroke="#333" stroke-width="0.6"/>
<line x1="355.8" y1="383.3" x2="355.8" y2="384.7" stroke="#333" stroke-width="0.6"/>
<line x1="383.96" y1="383.3" x2="383.96" y2="384.7" stroke="#333" stroke-width="0.6"/>
<line x1="29.65" y1="432.4" x2="29.65" y2="433.8" stroke="#333" stroke-width="0.6"/>
<line x1="57.81" y1="432.4" x2="57.81" y2="433.8" stroke="#333" stroke-width="0.6"/>
<line x1="85.97" y1="432.4" x2="85.97" y2="433.8" stroke="#333" stroke-width="0.6"/>
<line x1="114.13" y1="432.4" x2="114.13" y2="433.8" stroke="#333" stroke-width="0.6"/>
<line x1="142.29" y1="432.4" x2="142.29" y2="433.8" stroke="#333" stroke-width="0.6"/>
<line x1="170.45" y1="432.4" x2="170.45" y2="433.8" stroke="#333" stroke-width="0.6"/>
<line x1="198.61" y1="432.4" x2="198.61" y2="433.8" stroke="#333" stroke-width="0.6"/>
<line x1="215" y1="432.4" x2="215" y2="433.8" stroke="#333" stroke-width="0.6"/>
<line x1="243.16" y1="432.4" x2="243.16" y2="433.8" stroke="#333" stroke-width="0.6"/>
<line x1="271.32" y1="432.4" x2="271.32" y2="433.8" stroke="#333" stroke-width="0.6"/>
<line x1="299.48" y1="432.4" x2="299.48" y2="433.8" stroke="#333" stroke-width="0.6"/>
<line x1="327.64" y1="432.4" x2="327.64" y2="433.8" stroke="#333" stroke-width="0.6"/>
<line x1="355.8" y1="432.4" x2="355.8" y2="433.8" stroke="#333" stroke-width="0.6"/>
<line x1="383.96" y1="432.4" x2="383.96" y2="433.8" stroke="#333" stroke-width="0.6"/>
<line x1="29.65" y1="480.6" x2="29.65" y2="482" stroke="#333" stroke-width="0.6"/>
<line x1="57.81" y1="480.6" x2="57.81" y2="482" stroke="#333" stroke-width="0.6"/>
<line x1="85.97" y1="480.6" x2="85.97" y2="482" stroke="#333" stroke-width="0.6"/>
<line x1="114.13" y1="480.6" x2="114.13" y2="482" stroke="#333" stroke-width="0.6"/>
<line x1="142.29" y1="480.6" x2="142.29" y2="482" stroke="#333" stroke-width="0.6"/>
<line x1="170.45" y1="480.6" x2="170.45" y2="482" stroke="#333" stroke-width="0.6"/>
<line x1="198.61" y1="480.6" x2="198.61" y2="482" stroke="#333" stroke-width="0.6"/>
<line x1="215" y1="480.6" x2="215" y2="482" stroke="#333" stroke-width="0.6"/>
<line x1="243.16" y1="480.6" x2="243.16" y2="482" stroke="#333" stroke-width="0.6"/>
<line x1="271.32" y1="480.6" x2="271.32" y2="482" stroke="#333" stroke-width="0.6"/>
<line x1="299.48" y1="480.6" x2="299.48" y2="482" stroke="#333" stroke-width="0.6"/>
<line x1="327.64" y1="480.6" x2="327.64" y2="482" stroke="#333" stroke-width="0.6"/>
<line x1="355.8" y1="480.6" x2="355.8" y2="482" stroke="#333" stroke-width="0.6"/>
<line x1="383.96" y1="480.6" x2="383.96" y2="482" stroke="#333" stroke-width="0.6"/>
<line x1="205.3" y1="297.6" x2="206.7" y2="297.6" stroke="#333" stroke-width="0.6"/>
<line x1="205.3" y1="313.4" x2="206.7" y2="313.4" stroke="#333" stroke-width="0.6"/>
<line x1="205.3" y1="329.2" x2="206.7" y2="329.2" stroke="#333" stroke-width="0.6"/>
<line x1="205.3" y1="339.8" x2="206.7" y2="339.8" stroke="#333" stroke-width="0.6"/>
<line x1="205.3" y1="354.2" x2="206.7" y2="354.2" stroke="#333" stroke-width="0.6"/>
<line x1="205.3" y1="368.5" x2="206.7" y2="368.5" stroke="#333" stroke-width="0.6"/>
<line x1="205.3" y1="383.2" x2="206.7" y2="383.2" stroke="#333" stroke-width="0.6"/>
<line x1="205.3" y1="392" x2="206.7" y2="392" stroke="#333" stroke-width="0.6"/>
<line x1="205.3" y1="405.9" x2="206.7" y2="405.9" stroke="#333" stroke-width="0.6"/>
<line x1="205.3" y1="420.1" x2="206.7" y2="420.1" stroke="#333" stroke-width="0.6"/>
<line x1="205.3" y1="444.9" x2="206.7" y2="444.9" stroke="#333" stroke-width="0.6"/>
<line x1="205.3" y1="458.5" x2="206.7" y2="458.5" stroke="#333" stroke-width="0.6"/>
<line x1="205.3" y1="472.4" x2="206.7" y2="472.4" stroke="#333" stroke-width="0.6"/>
<line x1="205.3" y1="492.9" x2="206.7" y2="492.9" stroke="#333" stroke-width="0.6"/>
<line x1="205.3" y1="506.9" x2="206.7" y2="506.9" stroke="#333" stroke-width="0.6"/>
<line x1="205.3" y1="520.5" x2="206.7" y2="520.5" stroke="#333" stroke-width="0.6"/>
<line x1="21.3" y1="334.6" x2="392.2" y2="334.6" stroke="#7a7a7a" stroke-width="0.95"/>
<line x1="21.3" y1="383.3" x2="392.2" y2="383.3" stroke="#7a7a7a" stroke-width="0.95"/>
<line x1="21.3" y1="432.4" x2="392.2" y2="432.4" stroke="#7a7a7a" stroke-width="0.95"/>
<line x1="21.3" y1="480.6" x2="392.2" y2="480.6" stroke="#7a7a7a" stroke-width="0.95"/>
<line x1="206.7" y1="286" x2="206.7" y2="529.4" stroke="#7a7a7a" stroke-width="0.95"/>
<rect x="21.3" y="286" width="370.9" height="243.4" fill="none" stroke="#555" stroke-width="0.6"/>
<line x1="25.3" y1="292.2" x2="34.9" y2="292.2" stroke="#ff0000" stroke-width="0.9" stroke-opacity="0.55"/>
<line x1="25.3" y1="299" x2="34.9" y2="299" stroke="#0000ff" stroke-width="0.9" stroke-opacity="0.55"/>
<text font-size="4.2" fill="#000" stroke="#000" stroke-width="0.1" letter-spacing="0.35" text-rendering="geometricPrecision" x="38.7" y="293.7">FF+FB</text>
<text font-size="4.2" fill="#000" stroke="#000" stroke-width="0.1" letter-spacing="0.35" text-rendering="geometricPrecision" x="38.7" y="300.5">FF</text>
<line x1="210.7" y1="292.2" x2="220.3" y2="292.2" stroke="#ff0000" stroke-width="0.9" stroke-opacity="0.55"/>
<line x1="210.7" y1="299" x2="220.3" y2="299" stroke="#0000ff" stroke-width="0.9" stroke-opacity="0.55"/>
<text font-size="4.2" fill="#000" stroke="#000" stroke-width="0.1" letter-spacing="0.35" text-rendering="geometricPrecision" x="224.1" y="293.7">FF+FB</text>
<text font-size="4.2" fill="#000" stroke="#000" stroke-width="0.1" letter-spacing="0.35" text-rendering="geometricPrecision" x="224.1" y="300.5">FF</text>
<line x1="25.3" y1="340.8" x2="34.9" y2="340.8" stroke="#ff0000" stroke-width="0.9" stroke-opacity="0.55"/>
<line x1="25.3" y1="347.6" x2="34.9" y2="347.6" stroke="#0000ff" stroke-width="0.9" stroke-opacity="0.55"/>
<text font-size="4.2" fill="#000" stroke="#000" stroke-width="0.1" letter-spacing="0.35" text-rendering="geometricPrecision" x="38.7" y="342.3">FF+FB</text>
<text font-size="4.2" fill="#000" stroke="#000" stroke-width="0.1" letter-spacing="0.35" text-rendering="geometricPrecision" x="38.7" y="349.1">FF</text>
<line x1="210.7" y1="340.8" x2="220.3" y2="340.8" stroke="#ff0000" stroke-width="0.9" stroke-opacity="0.55"/>
<line x1="210.7" y1="347.6" x2="220.3" y2="347.6" stroke="#0000ff" stroke-width="0.9" stroke-opacity="0.55"/>
<text font-size="4.2" fill="#000" stroke="#000" stroke-width="0.1" letter-spacing="0.35" text-rendering="geometricPrecision" x="224.1" y="342.3">FF+FB</text>
<text font-size="4.2" fill="#000" stroke="#000" stroke-width="0.1" letter-spacing="0.35" text-rendering="geometricPrecision" x="224.1" y="349.1">FF</text>
<line x1="174.8" y1="389.5" x2="184.4" y2="389.5" stroke="#ff0000" stroke-width="0.9" stroke-opacity="0.55"/>
<line x1="174.8" y1="396.3" x2="184.4" y2="396.3" stroke="#0000ff" stroke-width="0.9" stroke-opacity="0.55"/>
<text font-size="4.2" fill="#000" stroke="#000" stroke-width="0.1" letter-spacing="0.35" text-rendering="geometricPrecision" x="188.2" y="391">FF+FB</text>
<text font-size="4.2" fill="#000" stroke="#000" stroke-width="0.1" letter-spacing="0.35" text-rendering="geometricPrecision" x="188.2" y="397.8">FF</text>
<line x1="210.7" y1="389.5" x2="220.3" y2="389.5" stroke="#ff0000" stroke-width="0.9" stroke-opacity="0.55"/>
<line x1="210.7" y1="396.3" x2="220.3" y2="396.3" stroke="#0000ff" stroke-width="0.9" stroke-opacity="0.55"/>
<text font-size="4.2" fill="#000" stroke="#000" stroke-width="0.1" letter-spacing="0.35" text-rendering="geometricPrecision" x="224.1" y="391">FF+FB</text>
<text font-size="4.2" fill="#000" stroke="#000" stroke-width="0.1" letter-spacing="0.35" text-rendering="geometricPrecision" x="224.1" y="397.8">FF</text>
<line x1="174.8" y1="438.6" x2="184.4" y2="438.6" stroke="#ff0000" stroke-width="0.9" stroke-opacity="0.55"/>
<line x1="174.8" y1="445.4" x2="184.4" y2="445.4" stroke="#0000ff" stroke-width="0.9" stroke-opacity="0.55"/>
<text font-size="4.2" fill="#000" stroke="#000" stroke-width="0.1" letter-spacing="0.35" text-rendering="geometricPrecision" x="188.2" y="440.1">FF+FB</text>
<text font-size="4.2" fill="#000" stroke="#000" stroke-width="0.1" letter-spacing="0.35" text-rendering="geometricPrecision" x="188.2" y="446.9">FF</text>
<line x1="210.7" y1="438.6" x2="220.3" y2="438.6" stroke="#ff0000" stroke-width="0.9" stroke-opacity="0.55"/>
<line x1="210.7" y1="445.4" x2="220.3" y2="445.4" stroke="#0000ff" stroke-width="0.9" stroke-opacity="0.55"/>
<text font-size="4.2" fill="#000" stroke="#000" stroke-width="0.1" letter-spacing="0.35" text-rendering="geometricPrecision" x="224.1" y="440.1">FF+FB</text>
<text font-size="4.2" fill="#000" stroke="#000" stroke-width="0.1" letter-spacing="0.35" text-rendering="geometricPrecision" x="224.1" y="446.9">FF</text>
<line x1="25.3" y1="486.8" x2="34.9" y2="486.8" stroke="#ff0000" stroke-width="0.9" stroke-opacity="0.55"/>
<line x1="25.3" y1="493.6" x2="34.9" y2="493.6" stroke="#0000ff" stroke-width="0.9" stroke-opacity="0.55"/>
<text font-size="4.2" fill="#000" stroke="#000" stroke-width="0.1" letter-spacing="0.35" text-rendering="geometricPrecision" x="38.7" y="488.3">FF+FB</text>
<text font-size="4.2" fill="#000" stroke="#000" stroke-width="0.1" letter-spacing="0.35" text-rendering="geometricPrecision" x="38.7" y="495.1">FF</text>
<line x1="360.7" y1="486.8" x2="370.3" y2="486.8" stroke="#ff0000" stroke-width="0.9" stroke-opacity="0.55"/>
<line x1="360.7" y1="493.6" x2="370.3" y2="493.6" stroke="#0000ff" stroke-width="0.9" stroke-opacity="0.55"/>
<text font-size="4.2" fill="#000" stroke="#000" stroke-width="0.1" letter-spacing="0.35" text-rendering="geometricPrecision" x="374.1" y="488.3">FF+FB</text>
<text font-size="4.2" fill="#000" stroke="#000" stroke-width="0.1" letter-spacing="0.35" text-rendering="geometricPrecision" x="374.1" y="495.1">FF</text>
<text x="18.6" y="299.8" font-size="5.2" text-anchor="end" fill="#111" >70</text>
<line x1="19.9" y1="297.6" x2="21.3" y2="297.6" stroke="#555" stroke-width="0.5"/>
<text x="18.6" y="315.6" font-size="5.2" text-anchor="end" fill="#111" >65</text>
<line x1="19.9" y1="313.4" x2="21.3" y2="313.4" stroke="#555" stroke-width="0.5"/>
<text x="18.6" y="331.4" font-size="5.2" text-anchor="end" fill="#111" >60</text>
<line x1="19.9" y1="329.2" x2="21.3" y2="329.2" stroke="#555" stroke-width="0.5"/>
<text x="18.6" y="342" font-size="5.2" text-anchor="end" fill="#111" >70</text>
<line x1="19.9" y1="339.8" x2="21.3" y2="339.8" stroke="#555" stroke-width="0.5"/>
<text x="18.6" y="356.4" font-size="5.2" text-anchor="end" fill="#111" >65</text>
<line x1="19.9" y1="354.2" x2="21.3" y2="354.2" stroke="#555" stroke-width="0.5"/>
<text x="18.6" y="370.7" font-size="5.2" text-anchor="end" fill="#111" >60</text>
<line x1="19.9" y1="368.5" x2="21.3" y2="368.5" stroke="#555" stroke-width="0.5"/>
<text x="18.6" y="385.4" font-size="5.2" text-anchor="end" fill="#111" >55</text>
<line x1="19.9" y1="383.2" x2="21.3" y2="383.2" stroke="#555" stroke-width="0.5"/>
<text x="18.6" y="394.2" font-size="5.2" text-anchor="end" fill="#111" >70</text>
<line x1="19.9" y1="392" x2="21.3" y2="392" stroke="#555" stroke-width="0.5"/>
<text x="18.6" y="408.1" font-size="5.2" text-anchor="end" fill="#111" >65</text>
<line x1="19.9" y1="405.9" x2="21.3" y2="405.9" stroke="#555" stroke-width="0.5"/>
<text x="18.6" y="422.3" font-size="5.2" text-anchor="end" fill="#111" >60</text>
<line x1="19.9" y1="420.1" x2="21.3" y2="420.1" stroke="#555" stroke-width="0.5"/>
<text x="18.6" y="447.1" font-size="5.2" text-anchor="end" fill="#111" >70</text>
<line x1="19.9" y1="444.9" x2="21.3" y2="444.9" stroke="#555" stroke-width="0.5"/>
<text x="18.6" y="460.7" font-size="5.2" text-anchor="end" fill="#111" >65</text>
<line x1="19.9" y1="458.5" x2="21.3" y2="458.5" stroke="#555" stroke-width="0.5"/>
<text x="18.6" y="474.6" font-size="5.2" text-anchor="end" fill="#111" >60</text>
<line x1="19.9" y1="472.4" x2="21.3" y2="472.4" stroke="#555" stroke-width="0.5"/>
<text x="18.6" y="495.1" font-size="5.2" text-anchor="end" fill="#111" >70</text>
<line x1="19.9" y1="492.9" x2="21.3" y2="492.9" stroke="#555" stroke-width="0.5"/>
<text x="18.6" y="509.1" font-size="5.2" text-anchor="end" fill="#111" >65</text>
<line x1="19.9" y1="506.9" x2="21.3" y2="506.9" stroke="#555" stroke-width="0.5"/>
<text x="18.6" y="522.7" font-size="5.2" text-anchor="end" fill="#111" >60</text>
<line x1="19.9" y1="520.5" x2="21.3" y2="520.5" stroke="#555" stroke-width="0.5"/>
<text x="29.65" y="536.6" font-size="5.2" text-anchor="middle" fill="#111" >0</text>
<line x1="29.65" y1="529.4" x2="29.65" y2="530.8" stroke="#555" stroke-width="0.5"/>
<text x="57.81" y="536.6" font-size="5.2" text-anchor="middle" fill="#111" >50</text>
<line x1="57.81" y1="529.4" x2="57.81" y2="530.8" stroke="#555" stroke-width="0.5"/>
<text x="85.97" y="536.6" font-size="5.2" text-anchor="middle" fill="#111" >100</text>
<line x1="85.97" y1="529.4" x2="85.97" y2="530.8" stroke="#555" stroke-width="0.5"/>
<text x="114.13" y="536.6" font-size="5.2" text-anchor="middle" fill="#111" >150</text>
<line x1="114.13" y1="529.4" x2="114.13" y2="530.8" stroke="#555" stroke-width="0.5"/>
<text x="142.29" y="536.6" font-size="5.2" text-anchor="middle" fill="#111" >200</text>
<line x1="142.29" y1="529.4" x2="142.29" y2="530.8" stroke="#555" stroke-width="0.5"/>
<text x="170.45" y="536.6" font-size="5.2" text-anchor="middle" fill="#111" >250</text>
<line x1="170.45" y1="529.4" x2="170.45" y2="530.8" stroke="#555" stroke-width="0.5"/>
<text x="198.61" y="536.6" font-size="5.2" text-anchor="middle" fill="#111" >300</text>
<line x1="198.61" y1="529.4" x2="198.61" y2="530.8" stroke="#555" stroke-width="0.5"/>
<text x="215" y="536.6" font-size="5.2" text-anchor="middle" fill="#111" >0</text>
<line x1="215" y1="529.4" x2="215" y2="530.8" stroke="#555" stroke-width="0.5"/>
<text x="243.16" y="536.6" font-size="5.2" text-anchor="middle" fill="#111" >50</text>
<line x1="243.16" y1="529.4" x2="243.16" y2="530.8" stroke="#555" stroke-width="0.5"/>
<text x="271.32" y="536.6" font-size="5.2" text-anchor="middle" fill="#111" >100</text>
<line x1="271.32" y1="529.4" x2="271.32" y2="530.8" stroke="#555" stroke-width="0.5"/>
<text x="299.48" y="536.6" font-size="5.2" text-anchor="middle" fill="#111" >150</text>
<line x1="299.48" y1="529.4" x2="299.48" y2="530.8" stroke="#555" stroke-width="0.5"/>
<text x="327.64" y="536.6" font-size="5.2" text-anchor="middle" fill="#111" >200</text>
<line x1="327.64" y1="529.4" x2="327.64" y2="530.8" stroke="#555" stroke-width="0.5"/>
<text x="355.8" y="536.6" font-size="5.2" text-anchor="middle" fill="#111" >250</text>
<line x1="355.8" y1="529.4" x2="355.8" y2="530.8" stroke="#555" stroke-width="0.5"/>
<text x="383.96" y="536.6" font-size="5.2" text-anchor="middle" fill="#111" >300</text>
<line x1="383.96" y1="529.4" x2="383.96" y2="530.8" stroke="#555" stroke-width="0.5"/>
<text x="201.9" y="283.6" font-size="6.15" text-anchor="middle" fill="#111" >liver dataset using g:0.7, &#951;:0.01, max. accuracy: 70.0%</text>
<text x="206" y="546.2" font-size="4.65" text-anchor="middle" fill="#111" >Epochs</text>
<text x="299.5" y="477.5" font-size="5.6" text-anchor="middle" fill="#111" >Epochs</text>
<text x="0" y="0" font-size="5.3" text-anchor="middle" fill="#111" transform="translate(7.8,411.4) rotate(-90)">Train acc (log scale)</text></svg></body></html>
